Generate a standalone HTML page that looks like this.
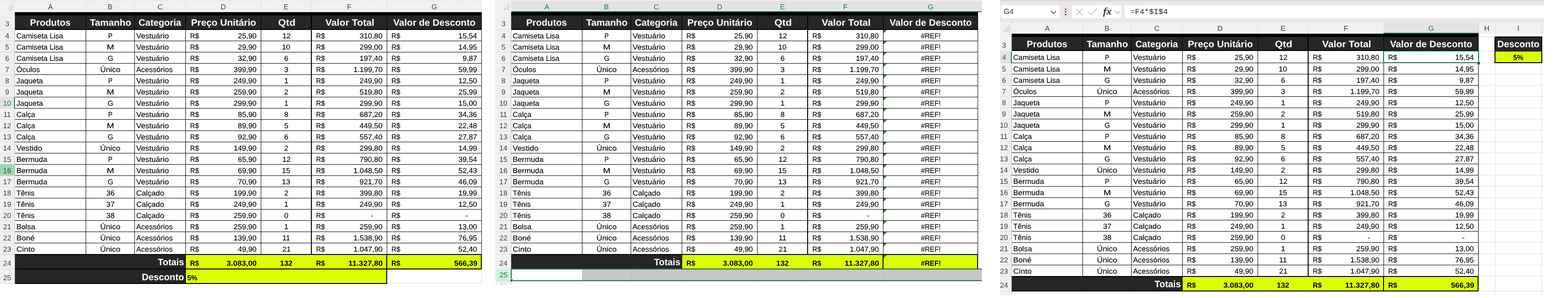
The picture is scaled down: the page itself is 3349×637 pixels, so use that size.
<!DOCTYPE html><html lang="pt-BR"><head><meta charset="utf-8"><title>Planilha</title><style>
html,body{margin:0;padding:0;background:#fff}body{width:3349px;height:637px;position:relative;overflow:hidden;font-family:"Liberation Sans",sans-serif;color:#000;text-rendering:geometricPrecision}.p{position:absolute;overflow:hidden;background:#fff}.p div,.p svg{position:absolute}.t{white-space:nowrap;line-height:20px;height:20px;transform-origin:0 50%}.s{-webkit-text-stroke:0.15px #000}
</style></head><body>
<div class="p" style="left:0px;top:0;width:1029px;height:607px">
<div style="left:0px;top:0px;width:1029px;height:26px;background:#f0f0f0;"></div>
<div style="left:183px;top:2px;width:1px;height:25px;background:#dbdbdb;"></div>
<div class="t" style="left:102.83px;top:6px;font-size:15.5px;color:#404040;">A</div>
<div style="left:287px;top:2px;width:1px;height:25px;background:#dbdbdb;"></div>
<div class="t" style="left:230.11px;top:6px;font-size:15.5px;color:#404040;">B</div>
<div style="left:396px;top:2px;width:1px;height:25px;background:#dbdbdb;"></div>
<div class="t" style="left:336.30px;top:6px;font-size:15.5px;color:#404040;">C</div>
<div style="left:557px;top:2px;width:1px;height:25px;background:#dbdbdb;"></div>
<div class="t" style="left:471.14px;top:6px;font-size:15.5px;color:#404040;">D</div>
<div style="left:665px;top:2px;width:1px;height:25px;background:#dbdbdb;"></div>
<div class="t" style="left:606.03px;top:6px;font-size:15.5px;color:#404040;">E</div>
<div style="left:826px;top:2px;width:1px;height:25px;background:#dbdbdb;"></div>
<div class="t" style="left:740.94px;top:6px;font-size:15.5px;color:#404040;">F</div>
<div style="left:1028px;top:2px;width:1px;height:25px;background:#dbdbdb;"></div>
<div class="t" style="left:921.66px;top:6px;font-size:15.5px;color:#404040;">G</div>
<div style="left:0px;top:0px;width:32px;height:26px;background:#f0f0f0;"></div>
<svg style="left:13px;top:8px" width="15" height="14" viewBox="0 0 15 14"><path d="M15 0V14H0Z" fill="#dcdede"/></svg>
<div style="left:31px;top:2px;width:1px;height:1px;background:#333;"></div>
<div style="left:0;top:0;width:1029px;height:3px;background:linear-gradient(#ece6e7,#f0f0f0)"></div>
<div style="left:0px;top:26px;width:32px;height:607px;background:#f0f0f0;"></div>
<div style="left:31px;top:26px;width:1px;height:581px;background:#b9b9b9;"></div>
<div style="left:0px;top:63px;width:32px;height:1px;background:#dcdcdc;"></div>
<div class="t" style="left:11.14px;top:42px;font-size:15.5px;color:#404040;">3</div>
<div style="left:0px;top:87px;width:32px;height:1px;background:#dcdcdc;"></div>
<div class="t" style="left:11.14px;top:68px;font-size:15.5px;color:#404040;">4</div>
<div style="left:0px;top:111px;width:32px;height:1px;background:#dcdcdc;"></div>
<div class="t" style="left:11.11px;top:92px;font-size:15.5px;color:#404040;">5</div>
<div style="left:0px;top:135px;width:32px;height:1px;background:#dcdcdc;"></div>
<div class="t" style="left:11.04px;top:116px;font-size:15.5px;color:#404040;">6</div>
<div style="left:0px;top:159px;width:32px;height:1px;background:#dcdcdc;"></div>
<div class="t" style="left:11.08px;top:140px;font-size:15.5px;color:#404040;">7</div>
<div style="left:0px;top:183px;width:32px;height:1px;background:#dcdcdc;"></div>
<div class="t" style="left:11.09px;top:164px;font-size:15.5px;color:#404040;">8</div>
<div style="left:0px;top:207px;width:32px;height:1px;background:#dcdcdc;"></div>
<div class="t" style="left:11.09px;top:188px;font-size:15.5px;color:#404040;">9</div>
<div style="left:0px;top:208px;width:32px;height:23px;background:#e3e3e3;"></div>
<div style="left:30px;top:208px;width:2px;height:24px;background:#1f7246;"></div>
<div style="left:0px;top:231px;width:30px;height:1px;background:#dcdcdc;"></div>
<div class="t" style="left:6.50px;top:212px;font-size:15.5px;color:#1f7246;">10</div>
<div style="left:0px;top:255px;width:32px;height:1px;background:#dcdcdc;"></div>
<div class="t" style="left:7.15px;top:236px;font-size:15.5px;color:#404040;">11</div>
<div style="left:0px;top:279px;width:32px;height:1px;background:#dcdcdc;"></div>
<div class="t" style="left:6.58px;top:260px;font-size:15.5px;color:#404040;">12</div>
<div style="left:0px;top:303px;width:32px;height:1px;background:#dcdcdc;"></div>
<div class="t" style="left:6.53px;top:284px;font-size:15.5px;color:#404040;">13</div>
<div style="left:0px;top:327px;width:32px;height:1px;background:#dcdcdc;"></div>
<div class="t" style="left:6.42px;top:308px;font-size:15.5px;color:#404040;">14</div>
<div style="left:0px;top:351px;width:32px;height:1px;background:#dcdcdc;"></div>
<div class="t" style="left:6.52px;top:332px;font-size:15.5px;color:#404040;">15</div>
<div style="left:0px;top:351px;width:32px;height:24px;background:#9fd5b7;"></div>
<div style="left:0px;top:375px;width:32px;height:1px;background:#dcdcdc;"></div>
<div class="t" style="left:6.53px;top:356px;font-size:15.5px;color:#185c37;">16</div>
<div style="left:0px;top:399px;width:32px;height:1px;background:#dcdcdc;"></div>
<div class="t" style="left:6.58px;top:380px;font-size:15.5px;color:#404040;">17</div>
<div style="left:0px;top:423px;width:32px;height:1px;background:#dcdcdc;"></div>
<div class="t" style="left:6.53px;top:404px;font-size:15.5px;color:#404040;">18</div>
<div style="left:0px;top:447px;width:32px;height:1px;background:#dcdcdc;"></div>
<div class="t" style="left:6.56px;top:428px;font-size:15.5px;color:#404040;">19</div>
<div style="left:0px;top:471px;width:32px;height:1px;background:#dcdcdc;"></div>
<div class="t" style="left:6.70px;top:452px;font-size:15.5px;color:#404040;">20</div>
<div style="left:0px;top:495px;width:32px;height:1px;background:#dcdcdc;"></div>
<div class="t" style="left:6.77px;top:476px;font-size:15.5px;color:#404040;">21</div>
<div style="left:0px;top:519px;width:32px;height:1px;background:#dcdcdc;"></div>
<div class="t" style="left:6.78px;top:500px;font-size:15.5px;color:#404040;">22</div>
<div style="left:0px;top:543px;width:32px;height:1px;background:#dcdcdc;"></div>
<div class="t" style="left:6.74px;top:524px;font-size:15.5px;color:#404040;">23</div>
<div style="left:0px;top:575px;width:32px;height:1px;background:#dcdcdc;"></div>
<div class="t" style="left:6.62px;top:554px;font-size:15.5px;color:#404040;">24</div>
<div style="left:0px;top:606px;width:32px;height:1px;background:#dcdcdc;"></div>
<div class="t" style="left:6.72px;top:585px;font-size:15.5px;color:#404040;">25</div>
<div style="left:32px;top:26px;width:997px;height:7px;background:#000;"></div>
<div style="left:32px;top:33px;width:997px;height:31px;background:#262626;"></div>
<div style="left:32px;top:62px;width:997px;height:2px;background:#000;"></div>
<div style="left:183px;top:33px;width:1px;height:30px;background:#000;"></div>
<div style="left:287px;top:33px;width:1px;height:30px;background:#000;"></div>
<div style="left:396px;top:33px;width:1px;height:30px;background:#000;"></div>
<div style="left:557px;top:33px;width:1px;height:30px;background:#000;"></div>
<div style="left:664px;top:33px;width:2px;height:30px;background:#000;"></div>
<div style="left:826px;top:33px;width:1px;height:30px;background:#000;"></div>
<div style="left:1028px;top:33px;width:1px;height:30px;background:#000;"></div>
<div class="t" style="left:64.12px;top:39px;font-size:20px;font-weight:bold;color:#fff;transform:scaleX(0.9893);">Produtos</div>
<div class="t" style="left:192.03px;top:39px;font-size:20px;font-weight:bold;color:#fff;transform:scaleX(1.0102);">Tamanho</div>
<div class="t" style="left:296.49px;top:39px;font-size:20px;font-weight:bold;color:#fff;transform:scaleX(0.9851);">Categoria</div>
<div class="t" style="left:407.59px;top:39px;font-size:20px;font-weight:bold;color:#fff;transform:scaleX(1.0172);">Preço Unitário</div>
<div class="t" style="left:593.56px;top:39px;font-size:20px;font-weight:bold;color:#fff;transform:scaleX(1.0805);">Qtd</div>
<div class="t" style="left:694.75px;top:39px;font-size:20px;font-weight:bold;color:#fff;transform:scaleX(1.0383);">Valor Total</div>
<div class="t" style="left:840.41px;top:39px;font-size:20px;font-weight:bold;color:#fff;transform:scaleX(1.0065);">Valor de Desconto</div>
<div style="left:32px;top:64px;width:997px;height:479px;background:#fff;"></div>
<div style="left:32px;top:87px;width:997px;height:1px;background:#000;"></div>
<div style="left:32px;top:111px;width:997px;height:1px;background:#000;"></div>
<div style="left:32px;top:135px;width:997px;height:1px;background:#000;"></div>
<div style="left:32px;top:159px;width:997px;height:1px;background:#000;"></div>
<div style="left:32px;top:183px;width:997px;height:1px;background:#000;"></div>
<div style="left:32px;top:207px;width:997px;height:1px;background:#000;"></div>
<div style="left:32px;top:231px;width:997px;height:1px;background:#000;"></div>
<div style="left:32px;top:255px;width:997px;height:1px;background:#000;"></div>
<div style="left:32px;top:279px;width:997px;height:1px;background:#000;"></div>
<div style="left:32px;top:303px;width:997px;height:1px;background:#000;"></div>
<div style="left:32px;top:327px;width:997px;height:1px;background:#000;"></div>
<div style="left:32px;top:351px;width:997px;height:1px;background:#000;"></div>
<div style="left:32px;top:375px;width:997px;height:1px;background:#000;"></div>
<div style="left:32px;top:399px;width:997px;height:1px;background:#000;"></div>
<div style="left:32px;top:423px;width:997px;height:1px;background:#000;"></div>
<div style="left:32px;top:447px;width:997px;height:1px;background:#000;"></div>
<div style="left:32px;top:471px;width:997px;height:1px;background:#000;"></div>
<div style="left:32px;top:495px;width:997px;height:1px;background:#000;"></div>
<div style="left:32px;top:519px;width:997px;height:1px;background:#000;"></div>
<div style="left:32px;top:543px;width:997px;height:1px;background:#000;"></div>
<div style="left:183px;top:64px;width:1px;height:479px;background:#000;"></div>
<div style="left:287px;top:64px;width:1px;height:479px;background:#000;"></div>
<div style="left:396px;top:64px;width:1px;height:479px;background:#000;"></div>
<div style="left:557px;top:64px;width:1px;height:479px;background:#000;"></div>
<div style="left:664px;top:64px;width:2px;height:479px;background:#000;"></div>
<div style="left:826px;top:64px;width:1px;height:479px;background:#000;"></div>
<div style="left:1028px;top:64px;width:1px;height:479px;background:#000;"></div>
<div class="t s" style="left:34.66px;top:68px;font-size:15.5px;transform:scaleX(1.0162);">Camiseta Lisa</div>
<div class="t s" style="left:230.92px;top:68px;font-size:15.5px;transform:scaleX(0.8853);">P</div>
<div class="t s" style="left:291.33px;top:68px;font-size:15.5px;transform:scaleX(1.0781);">Vestuário</div>
<div class="t s" style="left:405.79px;top:68px;font-size:15.5px;transform:scaleX(0.9513);">R$</div>
<div class="t s" style="left:508.18px;top:68px;font-size:15.5px;transform:scaleX(1.0300);">25,90</div>
<div class="t s" style="left:602.52px;top:68px;font-size:15.5px;transform:scaleX(1.0300);">12</div>
<div class="t s" style="left:674.79px;top:68px;font-size:15.5px;transform:scaleX(0.9513);">R$</div>
<div class="t s" style="left:768.30px;top:68px;font-size:15.5px;transform:scaleX(1.0300);">310,80</div>
<div class="t s" style="left:835.79px;top:68px;font-size:15.5px;transform:scaleX(0.9513);">R$</div>
<div class="t s" style="left:979.02px;top:68px;font-size:15.5px;transform:scaleX(1.0300);">15,54</div>
<div class="t s" style="left:34.66px;top:92px;font-size:15.5px;transform:scaleX(1.0162);">Camiseta Lisa</div>
<div class="t s" style="left:227.86px;top:92px;font-size:15.5px;transform:scaleX(1.2151);">M</div>
<div class="t s" style="left:291.33px;top:92px;font-size:15.5px;transform:scaleX(1.0781);">Vestuário</div>
<div class="t s" style="left:405.79px;top:92px;font-size:15.5px;transform:scaleX(0.9513);">R$</div>
<div class="t s" style="left:508.18px;top:92px;font-size:15.5px;transform:scaleX(1.0300);">29,90</div>
<div class="t s" style="left:602.43px;top:92px;font-size:15.5px;transform:scaleX(1.0300);">10</div>
<div class="t s" style="left:674.79px;top:92px;font-size:15.5px;transform:scaleX(0.9513);">R$</div>
<div class="t s" style="left:768.30px;top:92px;font-size:15.5px;transform:scaleX(1.0300);">299,00</div>
<div class="t s" style="left:835.79px;top:92px;font-size:15.5px;transform:scaleX(0.9513);">R$</div>
<div class="t s" style="left:979.23px;top:92px;font-size:15.5px;transform:scaleX(1.0300);">14,95</div>
<div class="t s" style="left:34.66px;top:116px;font-size:15.5px;transform:scaleX(1.0162);">Camiseta Lisa</div>
<div class="t s" style="left:229.91px;top:116px;font-size:15.5px;transform:scaleX(0.9929);">G</div>
<div class="t s" style="left:291.33px;top:116px;font-size:15.5px;transform:scaleX(1.0781);">Vestuário</div>
<div class="t s" style="left:405.79px;top:116px;font-size:15.5px;transform:scaleX(0.9513);">R$</div>
<div class="t s" style="left:508.18px;top:116px;font-size:15.5px;transform:scaleX(1.0300);">32,90</div>
<div class="t s" style="left:607.11px;top:116px;font-size:15.5px;transform:scaleX(1.0300);">6</div>
<div class="t s" style="left:674.79px;top:116px;font-size:15.5px;transform:scaleX(0.9513);">R$</div>
<div class="t s" style="left:768.30px;top:116px;font-size:15.5px;transform:scaleX(1.0300);">197,40</div>
<div class="t s" style="left:835.79px;top:116px;font-size:15.5px;transform:scaleX(0.9513);">R$</div>
<div class="t s" style="left:988.23px;top:116px;font-size:15.5px;transform:scaleX(1.0300);">9,87</div>
<div class="t s" style="left:34.70px;top:140px;font-size:15.5px;transform:scaleX(1.0458);">Óculos</div>
<div class="t s" style="left:213.80px;top:140px;font-size:15.5px;transform:scaleX(1.0903);">Único</div>
<div class="t s" style="left:291.37px;top:140px;font-size:15.5px;transform:scaleX(1.0276);">Acessórios</div>
<div class="t s" style="left:405.79px;top:140px;font-size:15.5px;transform:scaleX(0.9513);">R$</div>
<div class="t s" style="left:499.30px;top:140px;font-size:15.5px;transform:scaleX(1.0300);">399,90</div>
<div class="t s" style="left:607.21px;top:140px;font-size:15.5px;transform:scaleX(1.0300);">3</div>
<div class="t s" style="left:674.79px;top:140px;font-size:15.5px;transform:scaleX(0.9513);">R$</div>
<div class="t s" style="left:754.99px;top:140px;font-size:15.5px;transform:scaleX(1.0300);">1.199,70</div>
<div class="t s" style="left:835.79px;top:140px;font-size:15.5px;transform:scaleX(0.9513);">R$</div>
<div class="t s" style="left:979.31px;top:140px;font-size:15.5px;transform:scaleX(1.0300);">59,99</div>
<div class="t s" style="left:35.05px;top:164px;font-size:15.5px;transform:scaleX(1.0273);">Jaqueta</div>
<div class="t s" style="left:230.92px;top:164px;font-size:15.5px;transform:scaleX(0.8853);">P</div>
<div class="t s" style="left:291.33px;top:164px;font-size:15.5px;transform:scaleX(1.0781);">Vestuário</div>
<div class="t s" style="left:405.79px;top:164px;font-size:15.5px;transform:scaleX(0.9513);">R$</div>
<div class="t s" style="left:499.30px;top:164px;font-size:15.5px;transform:scaleX(1.0300);">249,90</div>
<div class="t s" style="left:606.95px;top:164px;font-size:15.5px;transform:scaleX(1.0300);">1</div>
<div class="t s" style="left:674.79px;top:164px;font-size:15.5px;transform:scaleX(0.9513);">R$</div>
<div class="t s" style="left:768.30px;top:164px;font-size:15.5px;transform:scaleX(1.0300);">249,90</div>
<div class="t s" style="left:835.79px;top:164px;font-size:15.5px;transform:scaleX(0.9513);">R$</div>
<div class="t s" style="left:979.18px;top:164px;font-size:15.5px;transform:scaleX(1.0300);">12,50</div>
<div class="t s" style="left:35.05px;top:188px;font-size:15.5px;transform:scaleX(1.0273);">Jaqueta</div>
<div class="t s" style="left:227.86px;top:188px;font-size:15.5px;transform:scaleX(1.2151);">M</div>
<div class="t s" style="left:291.33px;top:188px;font-size:15.5px;transform:scaleX(1.0781);">Vestuário</div>
<div class="t s" style="left:405.79px;top:188px;font-size:15.5px;transform:scaleX(0.9513);">R$</div>
<div class="t s" style="left:499.30px;top:188px;font-size:15.5px;transform:scaleX(1.0300);">259,90</div>
<div class="t s" style="left:607.16px;top:188px;font-size:15.5px;transform:scaleX(1.0300);">2</div>
<div class="t s" style="left:674.79px;top:188px;font-size:15.5px;transform:scaleX(0.9513);">R$</div>
<div class="t s" style="left:768.30px;top:188px;font-size:15.5px;transform:scaleX(1.0300);">519,80</div>
<div class="t s" style="left:835.79px;top:188px;font-size:15.5px;transform:scaleX(0.9513);">R$</div>
<div class="t s" style="left:979.31px;top:188px;font-size:15.5px;transform:scaleX(1.0300);">25,99</div>
<div class="t s" style="left:35.05px;top:212px;font-size:15.5px;transform:scaleX(1.0273);">Jaqueta</div>
<div class="t s" style="left:229.91px;top:212px;font-size:15.5px;transform:scaleX(0.9929);">G</div>
<div class="t s" style="left:291.33px;top:212px;font-size:15.5px;transform:scaleX(1.0781);">Vestuário</div>
<div class="t s" style="left:405.79px;top:212px;font-size:15.5px;transform:scaleX(0.9513);">R$</div>
<div class="t s" style="left:499.30px;top:212px;font-size:15.5px;transform:scaleX(1.0300);">299,90</div>
<div class="t s" style="left:606.95px;top:212px;font-size:15.5px;transform:scaleX(1.0300);">1</div>
<div class="t s" style="left:674.79px;top:212px;font-size:15.5px;transform:scaleX(0.9513);">R$</div>
<div class="t s" style="left:768.30px;top:212px;font-size:15.5px;transform:scaleX(1.0300);">299,90</div>
<div class="t s" style="left:835.79px;top:212px;font-size:15.5px;transform:scaleX(0.9513);">R$</div>
<div class="t s" style="left:979.18px;top:212px;font-size:15.5px;transform:scaleX(1.0300);">15,00</div>
<div class="t s" style="left:34.66px;top:236px;font-size:15.5px;transform:scaleX(1.0066);">Calça</div>
<div class="t s" style="left:230.92px;top:236px;font-size:15.5px;transform:scaleX(0.8853);">P</div>
<div class="t s" style="left:291.33px;top:236px;font-size:15.5px;transform:scaleX(1.0781);">Vestuário</div>
<div class="t s" style="left:405.79px;top:236px;font-size:15.5px;transform:scaleX(0.9513);">R$</div>
<div class="t s" style="left:508.18px;top:236px;font-size:15.5px;transform:scaleX(1.0300);">85,90</div>
<div class="t s" style="left:607.16px;top:236px;font-size:15.5px;transform:scaleX(1.0300);">8</div>
<div class="t s" style="left:674.79px;top:236px;font-size:15.5px;transform:scaleX(0.9513);">R$</div>
<div class="t s" style="left:768.30px;top:236px;font-size:15.5px;transform:scaleX(1.0300);">687,20</div>
<div class="t s" style="left:835.79px;top:236px;font-size:15.5px;transform:scaleX(0.9513);">R$</div>
<div class="t s" style="left:979.26px;top:236px;font-size:15.5px;transform:scaleX(1.0300);">34,36</div>
<div class="t s" style="left:34.66px;top:260px;font-size:15.5px;transform:scaleX(1.0066);">Calça</div>
<div class="t s" style="left:227.86px;top:260px;font-size:15.5px;transform:scaleX(1.2151);">M</div>
<div class="t s" style="left:291.33px;top:260px;font-size:15.5px;transform:scaleX(1.0781);">Vestuário</div>
<div class="t s" style="left:405.79px;top:260px;font-size:15.5px;transform:scaleX(0.9513);">R$</div>
<div class="t s" style="left:508.18px;top:260px;font-size:15.5px;transform:scaleX(1.0300);">89,90</div>
<div class="t s" style="left:607.18px;top:260px;font-size:15.5px;transform:scaleX(1.0300);">5</div>
<div class="t s" style="left:674.79px;top:260px;font-size:15.5px;transform:scaleX(0.9513);">R$</div>
<div class="t s" style="left:768.30px;top:260px;font-size:15.5px;transform:scaleX(1.0300);">449,50</div>
<div class="t s" style="left:835.79px;top:260px;font-size:15.5px;transform:scaleX(0.9513);">R$</div>
<div class="t s" style="left:979.24px;top:260px;font-size:15.5px;transform:scaleX(1.0300);">22,48</div>
<div class="t s" style="left:34.66px;top:284px;font-size:15.5px;transform:scaleX(1.0066);">Calça</div>
<div class="t s" style="left:229.91px;top:284px;font-size:15.5px;transform:scaleX(0.9929);">G</div>
<div class="t s" style="left:291.33px;top:284px;font-size:15.5px;transform:scaleX(1.0781);">Vestuário</div>
<div class="t s" style="left:405.79px;top:284px;font-size:15.5px;transform:scaleX(0.9513);">R$</div>
<div class="t s" style="left:508.18px;top:284px;font-size:15.5px;transform:scaleX(1.0300);">92,90</div>
<div class="t s" style="left:607.11px;top:284px;font-size:15.5px;transform:scaleX(1.0300);">6</div>
<div class="t s" style="left:674.79px;top:284px;font-size:15.5px;transform:scaleX(0.9513);">R$</div>
<div class="t s" style="left:768.30px;top:284px;font-size:15.5px;transform:scaleX(1.0300);">557,40</div>
<div class="t s" style="left:835.79px;top:284px;font-size:15.5px;transform:scaleX(0.9513);">R$</div>
<div class="t s" style="left:979.35px;top:284px;font-size:15.5px;transform:scaleX(1.0300);">27,87</div>
<div class="t s" style="left:35.39px;top:308px;font-size:15.5px;transform:scaleX(1.0813);">Vestido</div>
<div class="t s" style="left:213.80px;top:308px;font-size:15.5px;transform:scaleX(1.0903);">Único</div>
<div class="t s" style="left:291.33px;top:308px;font-size:15.5px;transform:scaleX(1.0781);">Vestuário</div>
<div class="t s" style="left:405.79px;top:308px;font-size:15.5px;transform:scaleX(0.9513);">R$</div>
<div class="t s" style="left:499.30px;top:308px;font-size:15.5px;transform:scaleX(1.0300);">149,90</div>
<div class="t s" style="left:607.16px;top:308px;font-size:15.5px;transform:scaleX(1.0300);">2</div>
<div class="t s" style="left:674.79px;top:308px;font-size:15.5px;transform:scaleX(0.9513);">R$</div>
<div class="t s" style="left:768.30px;top:308px;font-size:15.5px;transform:scaleX(1.0300);">299,80</div>
<div class="t s" style="left:835.79px;top:308px;font-size:15.5px;transform:scaleX(0.9513);">R$</div>
<div class="t s" style="left:979.31px;top:308px;font-size:15.5px;transform:scaleX(1.0300);">14,99</div>
<div class="t s" style="left:34.87px;top:332px;font-size:15.5px;transform:scaleX(1.0482);">Bermuda</div>
<div class="t s" style="left:230.92px;top:332px;font-size:15.5px;transform:scaleX(0.8853);">P</div>
<div class="t s" style="left:291.33px;top:332px;font-size:15.5px;transform:scaleX(1.0781);">Vestuário</div>
<div class="t s" style="left:405.79px;top:332px;font-size:15.5px;transform:scaleX(0.9513);">R$</div>
<div class="t s" style="left:508.18px;top:332px;font-size:15.5px;transform:scaleX(1.0300);">65,90</div>
<div class="t s" style="left:602.52px;top:332px;font-size:15.5px;transform:scaleX(1.0300);">12</div>
<div class="t s" style="left:674.79px;top:332px;font-size:15.5px;transform:scaleX(0.9513);">R$</div>
<div class="t s" style="left:768.30px;top:332px;font-size:15.5px;transform:scaleX(1.0300);">790,80</div>
<div class="t s" style="left:835.79px;top:332px;font-size:15.5px;transform:scaleX(0.9513);">R$</div>
<div class="t s" style="left:979.02px;top:332px;font-size:15.5px;transform:scaleX(1.0300);">39,54</div>
<div class="t s" style="left:34.87px;top:356px;font-size:15.5px;transform:scaleX(1.0482);">Bermuda</div>
<div class="t s" style="left:227.86px;top:356px;font-size:15.5px;transform:scaleX(1.2151);">M</div>
<div class="t s" style="left:291.33px;top:356px;font-size:15.5px;transform:scaleX(1.0781);">Vestuário</div>
<div class="t s" style="left:405.79px;top:356px;font-size:15.5px;transform:scaleX(0.9513);">R$</div>
<div class="t s" style="left:508.18px;top:356px;font-size:15.5px;transform:scaleX(1.0300);">69,90</div>
<div class="t s" style="left:602.45px;top:356px;font-size:15.5px;transform:scaleX(1.0300);">15</div>
<div class="t s" style="left:674.79px;top:356px;font-size:15.5px;transform:scaleX(0.9513);">R$</div>
<div class="t s" style="left:754.99px;top:356px;font-size:15.5px;transform:scaleX(1.0300);">1.048,50</div>
<div class="t s" style="left:835.79px;top:356px;font-size:15.5px;transform:scaleX(0.9513);">R$</div>
<div class="t s" style="left:979.26px;top:356px;font-size:15.5px;transform:scaleX(1.0300);">52,43</div>
<div class="t s" style="left:34.87px;top:380px;font-size:15.5px;transform:scaleX(1.0482);">Bermuda</div>
<div class="t s" style="left:229.91px;top:380px;font-size:15.5px;transform:scaleX(0.9929);">G</div>
<div class="t s" style="left:291.33px;top:380px;font-size:15.5px;transform:scaleX(1.0781);">Vestuário</div>
<div class="t s" style="left:405.79px;top:380px;font-size:15.5px;transform:scaleX(0.9513);">R$</div>
<div class="t s" style="left:508.18px;top:380px;font-size:15.5px;transform:scaleX(1.0300);">70,90</div>
<div class="t s" style="left:602.47px;top:380px;font-size:15.5px;transform:scaleX(1.0300);">13</div>
<div class="t s" style="left:674.79px;top:380px;font-size:15.5px;transform:scaleX(0.9513);">R$</div>
<div class="t s" style="left:768.30px;top:380px;font-size:15.5px;transform:scaleX(1.0300);">921,70</div>
<div class="t s" style="left:835.79px;top:380px;font-size:15.5px;transform:scaleX(0.9513);">R$</div>
<div class="t s" style="left:979.31px;top:380px;font-size:15.5px;transform:scaleX(1.0300);">46,09</div>
<div class="t s" style="left:34.65px;top:404px;font-size:15.5px;transform:scaleX(1.0190);">Tênis</div>
<div class="t s" style="left:226.87px;top:404px;font-size:15.5px;transform:scaleX(1.0300);">36</div>
<div class="t s" style="left:290.57px;top:404px;font-size:15.5px;transform:scaleX(1.0500);">Calçado</div>
<div class="t s" style="left:405.79px;top:404px;font-size:15.5px;transform:scaleX(0.9513);">R$</div>
<div class="t s" style="left:499.30px;top:404px;font-size:15.5px;transform:scaleX(1.0300);">199,90</div>
<div class="t s" style="left:607.16px;top:404px;font-size:15.5px;transform:scaleX(1.0300);">2</div>
<div class="t s" style="left:674.79px;top:404px;font-size:15.5px;transform:scaleX(0.9513);">R$</div>
<div class="t s" style="left:768.30px;top:404px;font-size:15.5px;transform:scaleX(1.0300);">399,80</div>
<div class="t s" style="left:835.79px;top:404px;font-size:15.5px;transform:scaleX(0.9513);">R$</div>
<div class="t s" style="left:979.31px;top:404px;font-size:15.5px;transform:scaleX(1.0300);">19,99</div>
<div class="t s" style="left:34.65px;top:428px;font-size:15.5px;transform:scaleX(1.0190);">Tênis</div>
<div class="t s" style="left:226.92px;top:428px;font-size:15.5px;transform:scaleX(1.0300);">37</div>
<div class="t s" style="left:290.57px;top:428px;font-size:15.5px;transform:scaleX(1.0500);">Calçado</div>
<div class="t s" style="left:405.79px;top:428px;font-size:15.5px;transform:scaleX(0.9513);">R$</div>
<div class="t s" style="left:499.30px;top:428px;font-size:15.5px;transform:scaleX(1.0300);">249,90</div>
<div class="t s" style="left:606.95px;top:428px;font-size:15.5px;transform:scaleX(1.0300);">1</div>
<div class="t s" style="left:674.79px;top:428px;font-size:15.5px;transform:scaleX(0.9513);">R$</div>
<div class="t s" style="left:768.30px;top:428px;font-size:15.5px;transform:scaleX(1.0300);">249,90</div>
<div class="t s" style="left:835.79px;top:428px;font-size:15.5px;transform:scaleX(0.9513);">R$</div>
<div class="t s" style="left:979.18px;top:428px;font-size:15.5px;transform:scaleX(1.0300);">12,50</div>
<div class="t s" style="left:34.65px;top:452px;font-size:15.5px;transform:scaleX(1.0190);">Tênis</div>
<div class="t s" style="left:226.86px;top:452px;font-size:15.5px;transform:scaleX(1.0300);">38</div>
<div class="t s" style="left:290.57px;top:452px;font-size:15.5px;transform:scaleX(1.0500);">Calçado</div>
<div class="t s" style="left:405.79px;top:452px;font-size:15.5px;transform:scaleX(0.9513);">R$</div>
<div class="t s" style="left:499.30px;top:452px;font-size:15.5px;transform:scaleX(1.0300);">259,90</div>
<div class="t s" style="left:607.16px;top:452px;font-size:15.5px;transform:scaleX(1.0300);">0</div>
<div class="t s" style="left:674.79px;top:452px;font-size:15.5px;transform:scaleX(0.9513);">R$</div>
<div class="t s" style="left:791.92px;top:452px;font-size:15.5px;">-</div>
<div class="t s" style="left:835.79px;top:452px;font-size:15.5px;transform:scaleX(0.9513);">R$</div>
<div class="t s" style="left:993.92px;top:452px;font-size:15.5px;">-</div>
<div class="t s" style="left:34.88px;top:476px;font-size:15.5px;transform:scaleX(1.0348);">Bolsa</div>
<div class="t s" style="left:213.80px;top:476px;font-size:15.5px;transform:scaleX(1.0903);">Único</div>
<div class="t s" style="left:291.37px;top:476px;font-size:15.5px;transform:scaleX(1.0276);">Acessórios</div>
<div class="t s" style="left:405.79px;top:476px;font-size:15.5px;transform:scaleX(0.9513);">R$</div>
<div class="t s" style="left:499.30px;top:476px;font-size:15.5px;transform:scaleX(1.0300);">259,90</div>
<div class="t s" style="left:606.95px;top:476px;font-size:15.5px;transform:scaleX(1.0300);">1</div>
<div class="t s" style="left:674.79px;top:476px;font-size:15.5px;transform:scaleX(0.9513);">R$</div>
<div class="t s" style="left:768.30px;top:476px;font-size:15.5px;transform:scaleX(1.0300);">259,90</div>
<div class="t s" style="left:835.79px;top:476px;font-size:15.5px;transform:scaleX(0.9513);">R$</div>
<div class="t s" style="left:979.18px;top:476px;font-size:15.5px;transform:scaleX(1.0300);">13,00</div>
<div class="t s" style="left:34.83px;top:500px;font-size:15.5px;transform:scaleX(1.0777);">Boné</div>
<div class="t s" style="left:213.80px;top:500px;font-size:15.5px;transform:scaleX(1.0903);">Único</div>
<div class="t s" style="left:291.37px;top:500px;font-size:15.5px;transform:scaleX(1.0276);">Acessórios</div>
<div class="t s" style="left:405.79px;top:500px;font-size:15.5px;transform:scaleX(0.9513);">R$</div>
<div class="t s" style="left:499.30px;top:500px;font-size:15.5px;transform:scaleX(1.0300);">139,90</div>
<div class="t s" style="left:603.10px;top:500px;font-size:15.5px;transform:scaleX(1.0300);">11</div>
<div class="t s" style="left:674.79px;top:500px;font-size:15.5px;transform:scaleX(0.9513);">R$</div>
<div class="t s" style="left:754.99px;top:500px;font-size:15.5px;transform:scaleX(1.0300);">1.538,90</div>
<div class="t s" style="left:835.79px;top:500px;font-size:15.5px;transform:scaleX(0.9513);">R$</div>
<div class="t s" style="left:979.23px;top:500px;font-size:15.5px;transform:scaleX(1.0300);">76,95</div>
<div class="t s" style="left:34.60px;top:524px;font-size:15.5px;transform:scaleX(1.0911);">Cinto</div>
<div class="t s" style="left:213.80px;top:524px;font-size:15.5px;transform:scaleX(1.0903);">Único</div>
<div class="t s" style="left:291.37px;top:524px;font-size:15.5px;transform:scaleX(1.0276);">Acessórios</div>
<div class="t s" style="left:405.79px;top:524px;font-size:15.5px;transform:scaleX(0.9513);">R$</div>
<div class="t s" style="left:508.18px;top:524px;font-size:15.5px;transform:scaleX(1.0300);">49,90</div>
<div class="t s" style="left:602.72px;top:524px;font-size:15.5px;transform:scaleX(1.0300);">21</div>
<div class="t s" style="left:674.79px;top:524px;font-size:15.5px;transform:scaleX(0.9513);">R$</div>
<div class="t s" style="left:754.99px;top:524px;font-size:15.5px;transform:scaleX(1.0300);">1.047,90</div>
<div class="t s" style="left:835.79px;top:524px;font-size:15.5px;transform:scaleX(0.9513);">R$</div>
<div class="t s" style="left:979.18px;top:524px;font-size:15.5px;transform:scaleX(1.0300);">52,40</div>
<div style="left:32px;top:543px;width:997px;height:33px;background:#000;"></div>
<div style="left:32px;top:545px;width:364px;height:29px;background:#262626;"></div>
<div style="left:397px;top:545px;width:428px;height:29px;background:#dbff00;"></div>
<div style="left:827px;top:545px;width:200px;height:29px;background:#dbff00;"></div>
<div class="t" style="left:336.99px;top:551px;font-size:20px;font-weight:bold;color:#fff;transform:scaleX(0.9759);">Totais</div>
<div class="t" style="left:406.01px;top:554px;font-size:15.5px;font-weight:bold;transform:scaleX(0.9540);">R$</div>
<div class="t" style="left:484.12px;top:554px;font-size:15.5px;font-weight:bold;transform:scaleX(1.0652);">3.083,00</div>
<div class="t" style="left:598.10px;top:554px;font-size:15.5px;font-weight:bold;transform:scaleX(1.0300);">132</div>
<div class="t" style="left:675.01px;top:554px;font-size:15.5px;font-weight:bold;transform:scaleX(0.9540);">R$</div>
<div class="t" style="left:743.85px;top:554px;font-size:15.5px;font-weight:bold;transform:scaleX(1.0800);">11.327,80</div>
<div class="t" style="left:836.01px;top:554px;font-size:15.5px;font-weight:bold;transform:scaleX(0.9540);">R$</div>
<div class="t" style="left:969.50px;top:554px;font-size:15.5px;font-weight:bold;transform:scaleX(1.0508);">566,39</div>
<div style="left:32px;top:574px;width:795px;height:33px;background:#000;"></div>
<div style="left:32px;top:576px;width:364px;height:29px;background:#262626;"></div>
<div style="left:397px;top:576px;width:428px;height:29px;background:#dbff00;"></div>
<div style="left:827px;top:605px;width:202px;height:1px;background:#e0e0e0;"></div>
<div style="left:1028px;top:576px;width:1px;height:30px;background:#e0e0e0;"></div>
<div class="t" style="left:302.88px;top:583px;font-size:20px;font-weight:bold;color:#fff;transform:scaleX(0.9888);">Desconto</div>
<div class="t" style="left:400.24px;top:585px;font-size:15.5px;font-weight:bold;transform:scaleX(0.9622);">5%</div>
</div>
<div class="p" style="left:1056px;top:0;width:1041px;height:610px">
<div style="left:1033px;top:63px;width:20px;height:1px;background:#e0e0e0;"></div>
<div style="left:1033px;top:87px;width:20px;height:1px;background:#e0e0e0;"></div>
<div style="left:1033px;top:111px;width:20px;height:1px;background:#e0e0e0;"></div>
<div style="left:1033px;top:135px;width:20px;height:1px;background:#e0e0e0;"></div>
<div style="left:1033px;top:159px;width:20px;height:1px;background:#e0e0e0;"></div>
<div style="left:1033px;top:183px;width:20px;height:1px;background:#e0e0e0;"></div>
<div style="left:1033px;top:207px;width:20px;height:1px;background:#e0e0e0;"></div>
<div style="left:1033px;top:231px;width:20px;height:1px;background:#e0e0e0;"></div>
<div style="left:1033px;top:255px;width:20px;height:1px;background:#e0e0e0;"></div>
<div style="left:1033px;top:279px;width:20px;height:1px;background:#e0e0e0;"></div>
<div style="left:1033px;top:303px;width:20px;height:1px;background:#e0e0e0;"></div>
<div style="left:1033px;top:327px;width:20px;height:1px;background:#e0e0e0;"></div>
<div style="left:1033px;top:351px;width:20px;height:1px;background:#e0e0e0;"></div>
<div style="left:1033px;top:375px;width:20px;height:1px;background:#e0e0e0;"></div>
<div style="left:1033px;top:399px;width:20px;height:1px;background:#e0e0e0;"></div>
<div style="left:1033px;top:423px;width:20px;height:1px;background:#e0e0e0;"></div>
<div style="left:1033px;top:447px;width:20px;height:1px;background:#e0e0e0;"></div>
<div style="left:1033px;top:471px;width:20px;height:1px;background:#e0e0e0;"></div>
<div style="left:1033px;top:495px;width:20px;height:1px;background:#e0e0e0;"></div>
<div style="left:1033px;top:519px;width:20px;height:1px;background:#e0e0e0;"></div>
<div style="left:1033px;top:543px;width:20px;height:1px;background:#e0e0e0;"></div>
<div style="left:1033px;top:32px;width:20px;height:1px;background:#e0e0e0;"></div>
<div style="left:0px;top:0px;width:1041px;height:26px;background:#f0f0f0;"></div>
<div style="left:36px;top:0px;width:151px;height:26px;background:#e3e3e3;"></div>
<div style="left:36px;top:24px;width:152px;height:2px;background:#1f7246;"></div>
<div style="left:187px;top:2px;width:1px;height:22px;background:#cfcfcf;"></div>
<div class="t" style="left:106.83px;top:6px;font-size:15.5px;color:#1f7246;">A</div>
<div style="left:187px;top:0px;width:104px;height:26px;background:#e3e3e3;"></div>
<div style="left:187px;top:24px;width:105px;height:2px;background:#1f7246;"></div>
<div style="left:291px;top:2px;width:1px;height:22px;background:#cfcfcf;"></div>
<div class="t" style="left:234.11px;top:6px;font-size:15.5px;color:#1f7246;">B</div>
<div style="left:291px;top:0px;width:109px;height:26px;background:#e3e3e3;"></div>
<div style="left:291px;top:24px;width:110px;height:2px;background:#1f7246;"></div>
<div style="left:400px;top:2px;width:1px;height:22px;background:#cfcfcf;"></div>
<div class="t" style="left:340.30px;top:6px;font-size:15.5px;color:#1f7246;">C</div>
<div style="left:400px;top:0px;width:161px;height:26px;background:#e3e3e3;"></div>
<div style="left:400px;top:24px;width:162px;height:2px;background:#1f7246;"></div>
<div style="left:561px;top:2px;width:1px;height:22px;background:#cfcfcf;"></div>
<div class="t" style="left:475.14px;top:6px;font-size:15.5px;color:#1f7246;">D</div>
<div style="left:561px;top:0px;width:108px;height:26px;background:#e3e3e3;"></div>
<div style="left:561px;top:24px;width:109px;height:2px;background:#1f7246;"></div>
<div style="left:669px;top:2px;width:1px;height:22px;background:#cfcfcf;"></div>
<div class="t" style="left:610.03px;top:6px;font-size:15.5px;color:#1f7246;">E</div>
<div style="left:669px;top:0px;width:161px;height:26px;background:#e3e3e3;"></div>
<div style="left:669px;top:24px;width:162px;height:2px;background:#1f7246;"></div>
<div style="left:830px;top:2px;width:1px;height:22px;background:#cfcfcf;"></div>
<div class="t" style="left:744.94px;top:6px;font-size:15.5px;color:#1f7246;">F</div>
<div style="left:830px;top:0px;width:202px;height:26px;background:#e3e3e3;"></div>
<div style="left:830px;top:24px;width:203px;height:2px;background:#1f7246;"></div>
<div style="left:1032px;top:2px;width:1px;height:22px;background:#cfcfcf;"></div>
<div class="t" style="left:925.66px;top:6px;font-size:15.5px;color:#1f7246;">G</div>
<div style="left:1032px;top:0px;width:59px;height:26px;background:#e3e3e3;"></div>
<div style="left:1032px;top:24px;width:60px;height:2px;background:#1f7246;"></div>
<div style="left:1091px;top:2px;width:1px;height:22px;background:#cfcfcf;"></div>
<div style="left:0px;top:0px;width:36px;height:26px;background:#f0f0f0;"></div>
<svg style="left:17px;top:8px" width="15" height="14" viewBox="0 0 15 14"><path d="M15 0V14H0Z" fill="#dcdede"/></svg>
<div style="left:0;top:0;width:1041px;height:3px;background:linear-gradient(#f6f3f4,rgba(246,243,244,0))"></div>
<div style="left:0px;top:26px;width:36px;height:610px;background:#f0f0f0;"></div>
<div style="left:35px;top:26px;width:1px;height:584px;background:#b9b9b9;"></div>
<div style="left:0px;top:63px;width:36px;height:1px;background:#dcdcdc;"></div>
<div class="t" style="left:15.14px;top:42px;font-size:15.5px;color:#404040;">3</div>
<div style="left:0px;top:87px;width:36px;height:1px;background:#dcdcdc;"></div>
<div class="t" style="left:15.14px;top:68px;font-size:15.5px;color:#404040;">4</div>
<div style="left:0px;top:111px;width:36px;height:1px;background:#dcdcdc;"></div>
<div class="t" style="left:15.11px;top:92px;font-size:15.5px;color:#404040;">5</div>
<div style="left:0px;top:135px;width:36px;height:1px;background:#dcdcdc;"></div>
<div class="t" style="left:15.04px;top:116px;font-size:15.5px;color:#404040;">6</div>
<div style="left:0px;top:159px;width:36px;height:1px;background:#dcdcdc;"></div>
<div class="t" style="left:15.08px;top:140px;font-size:15.5px;color:#404040;">7</div>
<div style="left:0px;top:183px;width:36px;height:1px;background:#dcdcdc;"></div>
<div class="t" style="left:15.09px;top:164px;font-size:15.5px;color:#404040;">8</div>
<div style="left:0px;top:207px;width:36px;height:1px;background:#dcdcdc;"></div>
<div class="t" style="left:15.09px;top:188px;font-size:15.5px;color:#404040;">9</div>
<div style="left:0px;top:231px;width:36px;height:1px;background:#dcdcdc;"></div>
<div class="t" style="left:10.50px;top:212px;font-size:15.5px;color:#404040;">10</div>
<div style="left:0px;top:255px;width:36px;height:1px;background:#dcdcdc;"></div>
<div class="t" style="left:11.15px;top:236px;font-size:15.5px;color:#404040;">11</div>
<div style="left:0px;top:279px;width:36px;height:1px;background:#dcdcdc;"></div>
<div class="t" style="left:10.58px;top:260px;font-size:15.5px;color:#404040;">12</div>
<div style="left:0px;top:303px;width:36px;height:1px;background:#dcdcdc;"></div>
<div class="t" style="left:10.53px;top:284px;font-size:15.5px;color:#404040;">13</div>
<div style="left:0px;top:327px;width:36px;height:1px;background:#dcdcdc;"></div>
<div class="t" style="left:10.42px;top:308px;font-size:15.5px;color:#404040;">14</div>
<div style="left:0px;top:351px;width:36px;height:1px;background:#dcdcdc;"></div>
<div class="t" style="left:10.52px;top:332px;font-size:15.5px;color:#404040;">15</div>
<div style="left:0px;top:375px;width:36px;height:1px;background:#dcdcdc;"></div>
<div class="t" style="left:10.53px;top:356px;font-size:15.5px;color:#404040;">16</div>
<div style="left:0px;top:399px;width:36px;height:1px;background:#dcdcdc;"></div>
<div class="t" style="left:10.58px;top:380px;font-size:15.5px;color:#404040;">17</div>
<div style="left:0px;top:423px;width:36px;height:1px;background:#dcdcdc;"></div>
<div class="t" style="left:10.53px;top:404px;font-size:15.5px;color:#404040;">18</div>
<div style="left:0px;top:447px;width:36px;height:1px;background:#dcdcdc;"></div>
<div class="t" style="left:10.56px;top:428px;font-size:15.5px;color:#404040;">19</div>
<div style="left:0px;top:471px;width:36px;height:1px;background:#dcdcdc;"></div>
<div class="t" style="left:10.70px;top:452px;font-size:15.5px;color:#404040;">20</div>
<div style="left:0px;top:495px;width:36px;height:1px;background:#dcdcdc;"></div>
<div class="t" style="left:10.77px;top:476px;font-size:15.5px;color:#404040;">21</div>
<div style="left:0px;top:519px;width:36px;height:1px;background:#dcdcdc;"></div>
<div class="t" style="left:10.78px;top:500px;font-size:15.5px;color:#404040;">22</div>
<div style="left:0px;top:543px;width:36px;height:1px;background:#dcdcdc;"></div>
<div class="t" style="left:10.74px;top:524px;font-size:15.5px;color:#404040;">23</div>
<div style="left:0px;top:575px;width:36px;height:1px;background:#dcdcdc;"></div>
<div class="t" style="left:10.62px;top:554px;font-size:15.5px;color:#404040;">24</div>
<div style="left:0px;top:576px;width:36px;height:24px;background:#d3f0e0;"></div>
<div style="left:0px;top:600px;width:36px;height:1px;background:#dcdcdc;"></div>
<div class="t" style="left:10.72px;top:579px;font-size:15.5px;color:#1f7246;">25</div>
<div style="left:0px;top:625px;width:36px;height:1px;background:#dcdcdc;"></div>
<div class="t" style="left:10.74px;top:604px;font-size:15.5px;color:#404040;">26</div>
<div style="left:36px;top:26px;width:997px;height:7px;background:#000;"></div>
<div style="left:36px;top:33px;width:997px;height:31px;background:#262626;"></div>
<div style="left:36px;top:62px;width:997px;height:2px;background:#000;"></div>
<div style="left:187px;top:33px;width:1px;height:30px;background:#000;"></div>
<div style="left:291px;top:33px;width:1px;height:30px;background:#000;"></div>
<div style="left:400px;top:33px;width:1px;height:30px;background:#000;"></div>
<div style="left:561px;top:33px;width:1px;height:30px;background:#000;"></div>
<div style="left:668px;top:33px;width:2px;height:30px;background:#000;"></div>
<div style="left:830px;top:33px;width:1px;height:30px;background:#000;"></div>
<div style="left:1032px;top:33px;width:1px;height:30px;background:#000;"></div>
<div class="t" style="left:68.12px;top:39px;font-size:20px;font-weight:bold;color:#fff;transform:scaleX(0.9893);">Produtos</div>
<div class="t" style="left:196.03px;top:39px;font-size:20px;font-weight:bold;color:#fff;transform:scaleX(1.0102);">Tamanho</div>
<div class="t" style="left:300.49px;top:39px;font-size:20px;font-weight:bold;color:#fff;transform:scaleX(0.9851);">Categoria</div>
<div class="t" style="left:411.59px;top:39px;font-size:20px;font-weight:bold;color:#fff;transform:scaleX(1.0172);">Preço Unitário</div>
<div class="t" style="left:597.56px;top:39px;font-size:20px;font-weight:bold;color:#fff;transform:scaleX(1.0805);">Qtd</div>
<div class="t" style="left:698.75px;top:39px;font-size:20px;font-weight:bold;color:#fff;transform:scaleX(1.0383);">Valor Total</div>
<div class="t" style="left:844.41px;top:39px;font-size:20px;font-weight:bold;color:#fff;transform:scaleX(1.0065);">Valor de Desconto</div>
<div style="left:36px;top:64px;width:997px;height:479px;background:#fff;"></div>
<div style="left:36px;top:87px;width:997px;height:1px;background:#000;"></div>
<div style="left:36px;top:111px;width:997px;height:1px;background:#000;"></div>
<div style="left:36px;top:135px;width:997px;height:1px;background:#000;"></div>
<div style="left:36px;top:159px;width:997px;height:1px;background:#000;"></div>
<div style="left:36px;top:183px;width:997px;height:1px;background:#000;"></div>
<div style="left:36px;top:207px;width:997px;height:1px;background:#000;"></div>
<div style="left:36px;top:231px;width:997px;height:1px;background:#000;"></div>
<div style="left:36px;top:255px;width:997px;height:1px;background:#000;"></div>
<div style="left:36px;top:279px;width:997px;height:1px;background:#000;"></div>
<div style="left:36px;top:303px;width:997px;height:1px;background:#000;"></div>
<div style="left:36px;top:327px;width:997px;height:1px;background:#000;"></div>
<div style="left:36px;top:351px;width:997px;height:1px;background:#000;"></div>
<div style="left:36px;top:375px;width:997px;height:1px;background:#000;"></div>
<div style="left:36px;top:399px;width:997px;height:1px;background:#000;"></div>
<div style="left:36px;top:423px;width:997px;height:1px;background:#000;"></div>
<div style="left:36px;top:447px;width:997px;height:1px;background:#000;"></div>
<div style="left:36px;top:471px;width:997px;height:1px;background:#000;"></div>
<div style="left:36px;top:495px;width:997px;height:1px;background:#000;"></div>
<div style="left:36px;top:519px;width:997px;height:1px;background:#000;"></div>
<div style="left:36px;top:543px;width:997px;height:1px;background:#000;"></div>
<div style="left:187px;top:64px;width:1px;height:479px;background:#000;"></div>
<div style="left:291px;top:64px;width:1px;height:479px;background:#000;"></div>
<div style="left:400px;top:64px;width:1px;height:479px;background:#000;"></div>
<div style="left:561px;top:64px;width:1px;height:479px;background:#000;"></div>
<div style="left:668px;top:64px;width:2px;height:479px;background:#000;"></div>
<div style="left:830px;top:64px;width:1px;height:479px;background:#000;"></div>
<div style="left:1032px;top:64px;width:1px;height:479px;background:#000;"></div>
<div class="t s" style="left:38.66px;top:68px;font-size:15.5px;transform:scaleX(1.0162);">Camiseta Lisa</div>
<div class="t s" style="left:234.92px;top:68px;font-size:15.5px;transform:scaleX(0.8853);">P</div>
<div class="t s" style="left:295.33px;top:68px;font-size:15.5px;transform:scaleX(1.0781);">Vestuário</div>
<div class="t s" style="left:409.79px;top:68px;font-size:15.5px;transform:scaleX(0.9513);">R$</div>
<div class="t s" style="left:512.18px;top:68px;font-size:15.5px;transform:scaleX(1.0300);">25,90</div>
<div class="t s" style="left:606.52px;top:68px;font-size:15.5px;transform:scaleX(1.0300);">12</div>
<div class="t s" style="left:678.79px;top:68px;font-size:15.5px;transform:scaleX(0.9513);">R$</div>
<div class="t s" style="left:772.30px;top:68px;font-size:15.5px;transform:scaleX(1.0300);">310,80</div>
<div class="t s" style="left:911.04px;top:68px;font-size:15.5px;transform:scaleX(0.9610);">#REF!</div>
<svg style="left:831px;top:64px" width="7" height="7" viewBox="0 0 7 7"><path d="M0 0H7L0 7Z" fill="#1d7a1d"/></svg>
<div class="t s" style="left:38.66px;top:92px;font-size:15.5px;transform:scaleX(1.0162);">Camiseta Lisa</div>
<div class="t s" style="left:231.86px;top:92px;font-size:15.5px;transform:scaleX(1.2151);">M</div>
<div class="t s" style="left:295.33px;top:92px;font-size:15.5px;transform:scaleX(1.0781);">Vestuário</div>
<div class="t s" style="left:409.79px;top:92px;font-size:15.5px;transform:scaleX(0.9513);">R$</div>
<div class="t s" style="left:512.18px;top:92px;font-size:15.5px;transform:scaleX(1.0300);">29,90</div>
<div class="t s" style="left:606.43px;top:92px;font-size:15.5px;transform:scaleX(1.0300);">10</div>
<div class="t s" style="left:678.79px;top:92px;font-size:15.5px;transform:scaleX(0.9513);">R$</div>
<div class="t s" style="left:772.30px;top:92px;font-size:15.5px;transform:scaleX(1.0300);">299,00</div>
<div class="t s" style="left:911.04px;top:92px;font-size:15.5px;transform:scaleX(0.9610);">#REF!</div>
<svg style="left:831px;top:88px" width="7" height="7" viewBox="0 0 7 7"><path d="M0 0H7L0 7Z" fill="#1d7a1d"/></svg>
<div class="t s" style="left:38.66px;top:116px;font-size:15.5px;transform:scaleX(1.0162);">Camiseta Lisa</div>
<div class="t s" style="left:233.91px;top:116px;font-size:15.5px;transform:scaleX(0.9929);">G</div>
<div class="t s" style="left:295.33px;top:116px;font-size:15.5px;transform:scaleX(1.0781);">Vestuário</div>
<div class="t s" style="left:409.79px;top:116px;font-size:15.5px;transform:scaleX(0.9513);">R$</div>
<div class="t s" style="left:512.18px;top:116px;font-size:15.5px;transform:scaleX(1.0300);">32,90</div>
<div class="t s" style="left:611.11px;top:116px;font-size:15.5px;transform:scaleX(1.0300);">6</div>
<div class="t s" style="left:678.79px;top:116px;font-size:15.5px;transform:scaleX(0.9513);">R$</div>
<div class="t s" style="left:772.30px;top:116px;font-size:15.5px;transform:scaleX(1.0300);">197,40</div>
<div class="t s" style="left:911.04px;top:116px;font-size:15.5px;transform:scaleX(0.9610);">#REF!</div>
<svg style="left:831px;top:112px" width="7" height="7" viewBox="0 0 7 7"><path d="M0 0H7L0 7Z" fill="#1d7a1d"/></svg>
<div class="t s" style="left:38.70px;top:140px;font-size:15.5px;transform:scaleX(1.0458);">Óculos</div>
<div class="t s" style="left:217.80px;top:140px;font-size:15.5px;transform:scaleX(1.0903);">Único</div>
<div class="t s" style="left:295.37px;top:140px;font-size:15.5px;transform:scaleX(1.0276);">Acessórios</div>
<div class="t s" style="left:409.79px;top:140px;font-size:15.5px;transform:scaleX(0.9513);">R$</div>
<div class="t s" style="left:503.30px;top:140px;font-size:15.5px;transform:scaleX(1.0300);">399,90</div>
<div class="t s" style="left:611.21px;top:140px;font-size:15.5px;transform:scaleX(1.0300);">3</div>
<div class="t s" style="left:678.79px;top:140px;font-size:15.5px;transform:scaleX(0.9513);">R$</div>
<div class="t s" style="left:758.99px;top:140px;font-size:15.5px;transform:scaleX(1.0300);">1.199,70</div>
<div class="t s" style="left:911.04px;top:140px;font-size:15.5px;transform:scaleX(0.9610);">#REF!</div>
<svg style="left:831px;top:136px" width="7" height="7" viewBox="0 0 7 7"><path d="M0 0H7L0 7Z" fill="#1d7a1d"/></svg>
<div class="t s" style="left:39.05px;top:164px;font-size:15.5px;transform:scaleX(1.0273);">Jaqueta</div>
<div class="t s" style="left:234.92px;top:164px;font-size:15.5px;transform:scaleX(0.8853);">P</div>
<div class="t s" style="left:295.33px;top:164px;font-size:15.5px;transform:scaleX(1.0781);">Vestuário</div>
<div class="t s" style="left:409.79px;top:164px;font-size:15.5px;transform:scaleX(0.9513);">R$</div>
<div class="t s" style="left:503.30px;top:164px;font-size:15.5px;transform:scaleX(1.0300);">249,90</div>
<div class="t s" style="left:610.95px;top:164px;font-size:15.5px;transform:scaleX(1.0300);">1</div>
<div class="t s" style="left:678.79px;top:164px;font-size:15.5px;transform:scaleX(0.9513);">R$</div>
<div class="t s" style="left:772.30px;top:164px;font-size:15.5px;transform:scaleX(1.0300);">249,90</div>
<div class="t s" style="left:911.04px;top:164px;font-size:15.5px;transform:scaleX(0.9610);">#REF!</div>
<svg style="left:831px;top:160px" width="7" height="7" viewBox="0 0 7 7"><path d="M0 0H7L0 7Z" fill="#1d7a1d"/></svg>
<div class="t s" style="left:39.05px;top:188px;font-size:15.5px;transform:scaleX(1.0273);">Jaqueta</div>
<div class="t s" style="left:231.86px;top:188px;font-size:15.5px;transform:scaleX(1.2151);">M</div>
<div class="t s" style="left:295.33px;top:188px;font-size:15.5px;transform:scaleX(1.0781);">Vestuário</div>
<div class="t s" style="left:409.79px;top:188px;font-size:15.5px;transform:scaleX(0.9513);">R$</div>
<div class="t s" style="left:503.30px;top:188px;font-size:15.5px;transform:scaleX(1.0300);">259,90</div>
<div class="t s" style="left:611.16px;top:188px;font-size:15.5px;transform:scaleX(1.0300);">2</div>
<div class="t s" style="left:678.79px;top:188px;font-size:15.5px;transform:scaleX(0.9513);">R$</div>
<div class="t s" style="left:772.30px;top:188px;font-size:15.5px;transform:scaleX(1.0300);">519,80</div>
<div class="t s" style="left:911.04px;top:188px;font-size:15.5px;transform:scaleX(0.9610);">#REF!</div>
<svg style="left:831px;top:184px" width="7" height="7" viewBox="0 0 7 7"><path d="M0 0H7L0 7Z" fill="#1d7a1d"/></svg>
<div class="t s" style="left:39.05px;top:212px;font-size:15.5px;transform:scaleX(1.0273);">Jaqueta</div>
<div class="t s" style="left:233.91px;top:212px;font-size:15.5px;transform:scaleX(0.9929);">G</div>
<div class="t s" style="left:295.33px;top:212px;font-size:15.5px;transform:scaleX(1.0781);">Vestuário</div>
<div class="t s" style="left:409.79px;top:212px;font-size:15.5px;transform:scaleX(0.9513);">R$</div>
<div class="t s" style="left:503.30px;top:212px;font-size:15.5px;transform:scaleX(1.0300);">299,90</div>
<div class="t s" style="left:610.95px;top:212px;font-size:15.5px;transform:scaleX(1.0300);">1</div>
<div class="t s" style="left:678.79px;top:212px;font-size:15.5px;transform:scaleX(0.9513);">R$</div>
<div class="t s" style="left:772.30px;top:212px;font-size:15.5px;transform:scaleX(1.0300);">299,90</div>
<div class="t s" style="left:911.04px;top:212px;font-size:15.5px;transform:scaleX(0.9610);">#REF!</div>
<svg style="left:831px;top:208px" width="7" height="7" viewBox="0 0 7 7"><path d="M0 0H7L0 7Z" fill="#1d7a1d"/></svg>
<div class="t s" style="left:38.66px;top:236px;font-size:15.5px;transform:scaleX(1.0066);">Calça</div>
<div class="t s" style="left:234.92px;top:236px;font-size:15.5px;transform:scaleX(0.8853);">P</div>
<div class="t s" style="left:295.33px;top:236px;font-size:15.5px;transform:scaleX(1.0781);">Vestuário</div>
<div class="t s" style="left:409.79px;top:236px;font-size:15.5px;transform:scaleX(0.9513);">R$</div>
<div class="t s" style="left:512.18px;top:236px;font-size:15.5px;transform:scaleX(1.0300);">85,90</div>
<div class="t s" style="left:611.16px;top:236px;font-size:15.5px;transform:scaleX(1.0300);">8</div>
<div class="t s" style="left:678.79px;top:236px;font-size:15.5px;transform:scaleX(0.9513);">R$</div>
<div class="t s" style="left:772.30px;top:236px;font-size:15.5px;transform:scaleX(1.0300);">687,20</div>
<div class="t s" style="left:911.04px;top:236px;font-size:15.5px;transform:scaleX(0.9610);">#REF!</div>
<svg style="left:831px;top:232px" width="7" height="7" viewBox="0 0 7 7"><path d="M0 0H7L0 7Z" fill="#1d7a1d"/></svg>
<div class="t s" style="left:38.66px;top:260px;font-size:15.5px;transform:scaleX(1.0066);">Calça</div>
<div class="t s" style="left:231.86px;top:260px;font-size:15.5px;transform:scaleX(1.2151);">M</div>
<div class="t s" style="left:295.33px;top:260px;font-size:15.5px;transform:scaleX(1.0781);">Vestuário</div>
<div class="t s" style="left:409.79px;top:260px;font-size:15.5px;transform:scaleX(0.9513);">R$</div>
<div class="t s" style="left:512.18px;top:260px;font-size:15.5px;transform:scaleX(1.0300);">89,90</div>
<div class="t s" style="left:611.18px;top:260px;font-size:15.5px;transform:scaleX(1.0300);">5</div>
<div class="t s" style="left:678.79px;top:260px;font-size:15.5px;transform:scaleX(0.9513);">R$</div>
<div class="t s" style="left:772.30px;top:260px;font-size:15.5px;transform:scaleX(1.0300);">449,50</div>
<div class="t s" style="left:911.04px;top:260px;font-size:15.5px;transform:scaleX(0.9610);">#REF!</div>
<svg style="left:831px;top:256px" width="7" height="7" viewBox="0 0 7 7"><path d="M0 0H7L0 7Z" fill="#1d7a1d"/></svg>
<div class="t s" style="left:38.66px;top:284px;font-size:15.5px;transform:scaleX(1.0066);">Calça</div>
<div class="t s" style="left:233.91px;top:284px;font-size:15.5px;transform:scaleX(0.9929);">G</div>
<div class="t s" style="left:295.33px;top:284px;font-size:15.5px;transform:scaleX(1.0781);">Vestuário</div>
<div class="t s" style="left:409.79px;top:284px;font-size:15.5px;transform:scaleX(0.9513);">R$</div>
<div class="t s" style="left:512.18px;top:284px;font-size:15.5px;transform:scaleX(1.0300);">92,90</div>
<div class="t s" style="left:611.11px;top:284px;font-size:15.5px;transform:scaleX(1.0300);">6</div>
<div class="t s" style="left:678.79px;top:284px;font-size:15.5px;transform:scaleX(0.9513);">R$</div>
<div class="t s" style="left:772.30px;top:284px;font-size:15.5px;transform:scaleX(1.0300);">557,40</div>
<div class="t s" style="left:911.04px;top:284px;font-size:15.5px;transform:scaleX(0.9610);">#REF!</div>
<svg style="left:831px;top:280px" width="7" height="7" viewBox="0 0 7 7"><path d="M0 0H7L0 7Z" fill="#1d7a1d"/></svg>
<div class="t s" style="left:39.39px;top:308px;font-size:15.5px;transform:scaleX(1.0813);">Vestido</div>
<div class="t s" style="left:217.80px;top:308px;font-size:15.5px;transform:scaleX(1.0903);">Único</div>
<div class="t s" style="left:295.33px;top:308px;font-size:15.5px;transform:scaleX(1.0781);">Vestuário</div>
<div class="t s" style="left:409.79px;top:308px;font-size:15.5px;transform:scaleX(0.9513);">R$</div>
<div class="t s" style="left:503.30px;top:308px;font-size:15.5px;transform:scaleX(1.0300);">149,90</div>
<div class="t s" style="left:611.16px;top:308px;font-size:15.5px;transform:scaleX(1.0300);">2</div>
<div class="t s" style="left:678.79px;top:308px;font-size:15.5px;transform:scaleX(0.9513);">R$</div>
<div class="t s" style="left:772.30px;top:308px;font-size:15.5px;transform:scaleX(1.0300);">299,80</div>
<div class="t s" style="left:911.04px;top:308px;font-size:15.5px;transform:scaleX(0.9610);">#REF!</div>
<svg style="left:831px;top:304px" width="7" height="7" viewBox="0 0 7 7"><path d="M0 0H7L0 7Z" fill="#1d7a1d"/></svg>
<div class="t s" style="left:38.87px;top:332px;font-size:15.5px;transform:scaleX(1.0482);">Bermuda</div>
<div class="t s" style="left:234.92px;top:332px;font-size:15.5px;transform:scaleX(0.8853);">P</div>
<div class="t s" style="left:295.33px;top:332px;font-size:15.5px;transform:scaleX(1.0781);">Vestuário</div>
<div class="t s" style="left:409.79px;top:332px;font-size:15.5px;transform:scaleX(0.9513);">R$</div>
<div class="t s" style="left:512.18px;top:332px;font-size:15.5px;transform:scaleX(1.0300);">65,90</div>
<div class="t s" style="left:606.52px;top:332px;font-size:15.5px;transform:scaleX(1.0300);">12</div>
<div class="t s" style="left:678.79px;top:332px;font-size:15.5px;transform:scaleX(0.9513);">R$</div>
<div class="t s" style="left:772.30px;top:332px;font-size:15.5px;transform:scaleX(1.0300);">790,80</div>
<div class="t s" style="left:911.04px;top:332px;font-size:15.5px;transform:scaleX(0.9610);">#REF!</div>
<svg style="left:831px;top:328px" width="7" height="7" viewBox="0 0 7 7"><path d="M0 0H7L0 7Z" fill="#1d7a1d"/></svg>
<div class="t s" style="left:38.87px;top:356px;font-size:15.5px;transform:scaleX(1.0482);">Bermuda</div>
<div class="t s" style="left:231.86px;top:356px;font-size:15.5px;transform:scaleX(1.2151);">M</div>
<div class="t s" style="left:295.33px;top:356px;font-size:15.5px;transform:scaleX(1.0781);">Vestuário</div>
<div class="t s" style="left:409.79px;top:356px;font-size:15.5px;transform:scaleX(0.9513);">R$</div>
<div class="t s" style="left:512.18px;top:356px;font-size:15.5px;transform:scaleX(1.0300);">69,90</div>
<div class="t s" style="left:606.45px;top:356px;font-size:15.5px;transform:scaleX(1.0300);">15</div>
<div class="t s" style="left:678.79px;top:356px;font-size:15.5px;transform:scaleX(0.9513);">R$</div>
<div class="t s" style="left:758.99px;top:356px;font-size:15.5px;transform:scaleX(1.0300);">1.048,50</div>
<div class="t s" style="left:911.04px;top:356px;font-size:15.5px;transform:scaleX(0.9610);">#REF!</div>
<svg style="left:831px;top:352px" width="7" height="7" viewBox="0 0 7 7"><path d="M0 0H7L0 7Z" fill="#1d7a1d"/></svg>
<div class="t s" style="left:38.87px;top:380px;font-size:15.5px;transform:scaleX(1.0482);">Bermuda</div>
<div class="t s" style="left:233.91px;top:380px;font-size:15.5px;transform:scaleX(0.9929);">G</div>
<div class="t s" style="left:295.33px;top:380px;font-size:15.5px;transform:scaleX(1.0781);">Vestuário</div>
<div class="t s" style="left:409.79px;top:380px;font-size:15.5px;transform:scaleX(0.9513);">R$</div>
<div class="t s" style="left:512.18px;top:380px;font-size:15.5px;transform:scaleX(1.0300);">70,90</div>
<div class="t s" style="left:606.47px;top:380px;font-size:15.5px;transform:scaleX(1.0300);">13</div>
<div class="t s" style="left:678.79px;top:380px;font-size:15.5px;transform:scaleX(0.9513);">R$</div>
<div class="t s" style="left:772.30px;top:380px;font-size:15.5px;transform:scaleX(1.0300);">921,70</div>
<div class="t s" style="left:911.04px;top:380px;font-size:15.5px;transform:scaleX(0.9610);">#REF!</div>
<svg style="left:831px;top:376px" width="7" height="7" viewBox="0 0 7 7"><path d="M0 0H7L0 7Z" fill="#1d7a1d"/></svg>
<div class="t s" style="left:38.65px;top:404px;font-size:15.5px;transform:scaleX(1.0190);">Tênis</div>
<div class="t s" style="left:230.87px;top:404px;font-size:15.5px;transform:scaleX(1.0300);">36</div>
<div class="t s" style="left:294.57px;top:404px;font-size:15.5px;transform:scaleX(1.0500);">Calçado</div>
<div class="t s" style="left:409.79px;top:404px;font-size:15.5px;transform:scaleX(0.9513);">R$</div>
<div class="t s" style="left:503.30px;top:404px;font-size:15.5px;transform:scaleX(1.0300);">199,90</div>
<div class="t s" style="left:611.16px;top:404px;font-size:15.5px;transform:scaleX(1.0300);">2</div>
<div class="t s" style="left:678.79px;top:404px;font-size:15.5px;transform:scaleX(0.9513);">R$</div>
<div class="t s" style="left:772.30px;top:404px;font-size:15.5px;transform:scaleX(1.0300);">399,80</div>
<div class="t s" style="left:911.04px;top:404px;font-size:15.5px;transform:scaleX(0.9610);">#REF!</div>
<svg style="left:831px;top:400px" width="7" height="7" viewBox="0 0 7 7"><path d="M0 0H7L0 7Z" fill="#1d7a1d"/></svg>
<div class="t s" style="left:38.65px;top:428px;font-size:15.5px;transform:scaleX(1.0190);">Tênis</div>
<div class="t s" style="left:230.92px;top:428px;font-size:15.5px;transform:scaleX(1.0300);">37</div>
<div class="t s" style="left:294.57px;top:428px;font-size:15.5px;transform:scaleX(1.0500);">Calçado</div>
<div class="t s" style="left:409.79px;top:428px;font-size:15.5px;transform:scaleX(0.9513);">R$</div>
<div class="t s" style="left:503.30px;top:428px;font-size:15.5px;transform:scaleX(1.0300);">249,90</div>
<div class="t s" style="left:610.95px;top:428px;font-size:15.5px;transform:scaleX(1.0300);">1</div>
<div class="t s" style="left:678.79px;top:428px;font-size:15.5px;transform:scaleX(0.9513);">R$</div>
<div class="t s" style="left:772.30px;top:428px;font-size:15.5px;transform:scaleX(1.0300);">249,90</div>
<div class="t s" style="left:911.04px;top:428px;font-size:15.5px;transform:scaleX(0.9610);">#REF!</div>
<svg style="left:831px;top:424px" width="7" height="7" viewBox="0 0 7 7"><path d="M0 0H7L0 7Z" fill="#1d7a1d"/></svg>
<div class="t s" style="left:38.65px;top:452px;font-size:15.5px;transform:scaleX(1.0190);">Tênis</div>
<div class="t s" style="left:230.86px;top:452px;font-size:15.5px;transform:scaleX(1.0300);">38</div>
<div class="t s" style="left:294.57px;top:452px;font-size:15.5px;transform:scaleX(1.0500);">Calçado</div>
<div class="t s" style="left:409.79px;top:452px;font-size:15.5px;transform:scaleX(0.9513);">R$</div>
<div class="t s" style="left:503.30px;top:452px;font-size:15.5px;transform:scaleX(1.0300);">259,90</div>
<div class="t s" style="left:611.16px;top:452px;font-size:15.5px;transform:scaleX(1.0300);">0</div>
<div class="t s" style="left:678.79px;top:452px;font-size:15.5px;transform:scaleX(0.9513);">R$</div>
<div class="t s" style="left:795.92px;top:452px;font-size:15.5px;">-</div>
<div class="t s" style="left:911.04px;top:452px;font-size:15.5px;transform:scaleX(0.9610);">#REF!</div>
<svg style="left:831px;top:448px" width="7" height="7" viewBox="0 0 7 7"><path d="M0 0H7L0 7Z" fill="#1d7a1d"/></svg>
<div class="t s" style="left:38.88px;top:476px;font-size:15.5px;transform:scaleX(1.0348);">Bolsa</div>
<div class="t s" style="left:217.80px;top:476px;font-size:15.5px;transform:scaleX(1.0903);">Único</div>
<div class="t s" style="left:295.37px;top:476px;font-size:15.5px;transform:scaleX(1.0276);">Acessórios</div>
<div class="t s" style="left:409.79px;top:476px;font-size:15.5px;transform:scaleX(0.9513);">R$</div>
<div class="t s" style="left:503.30px;top:476px;font-size:15.5px;transform:scaleX(1.0300);">259,90</div>
<div class="t s" style="left:610.95px;top:476px;font-size:15.5px;transform:scaleX(1.0300);">1</div>
<div class="t s" style="left:678.79px;top:476px;font-size:15.5px;transform:scaleX(0.9513);">R$</div>
<div class="t s" style="left:772.30px;top:476px;font-size:15.5px;transform:scaleX(1.0300);">259,90</div>
<div class="t s" style="left:911.04px;top:476px;font-size:15.5px;transform:scaleX(0.9610);">#REF!</div>
<svg style="left:831px;top:472px" width="7" height="7" viewBox="0 0 7 7"><path d="M0 0H7L0 7Z" fill="#1d7a1d"/></svg>
<div class="t s" style="left:38.83px;top:500px;font-size:15.5px;transform:scaleX(1.0777);">Boné</div>
<div class="t s" style="left:217.80px;top:500px;font-size:15.5px;transform:scaleX(1.0903);">Único</div>
<div class="t s" style="left:295.37px;top:500px;font-size:15.5px;transform:scaleX(1.0276);">Acessórios</div>
<div class="t s" style="left:409.79px;top:500px;font-size:15.5px;transform:scaleX(0.9513);">R$</div>
<div class="t s" style="left:503.30px;top:500px;font-size:15.5px;transform:scaleX(1.0300);">139,90</div>
<div class="t s" style="left:607.10px;top:500px;font-size:15.5px;transform:scaleX(1.0300);">11</div>
<div class="t s" style="left:678.79px;top:500px;font-size:15.5px;transform:scaleX(0.9513);">R$</div>
<div class="t s" style="left:758.99px;top:500px;font-size:15.5px;transform:scaleX(1.0300);">1.538,90</div>
<div class="t s" style="left:911.04px;top:500px;font-size:15.5px;transform:scaleX(0.9610);">#REF!</div>
<svg style="left:831px;top:496px" width="7" height="7" viewBox="0 0 7 7"><path d="M0 0H7L0 7Z" fill="#1d7a1d"/></svg>
<div class="t s" style="left:38.60px;top:524px;font-size:15.5px;transform:scaleX(1.0911);">Cinto</div>
<div class="t s" style="left:217.80px;top:524px;font-size:15.5px;transform:scaleX(1.0903);">Único</div>
<div class="t s" style="left:295.37px;top:524px;font-size:15.5px;transform:scaleX(1.0276);">Acessórios</div>
<div class="t s" style="left:409.79px;top:524px;font-size:15.5px;transform:scaleX(0.9513);">R$</div>
<div class="t s" style="left:512.18px;top:524px;font-size:15.5px;transform:scaleX(1.0300);">49,90</div>
<div class="t s" style="left:606.72px;top:524px;font-size:15.5px;transform:scaleX(1.0300);">21</div>
<div class="t s" style="left:678.79px;top:524px;font-size:15.5px;transform:scaleX(0.9513);">R$</div>
<div class="t s" style="left:758.99px;top:524px;font-size:15.5px;transform:scaleX(1.0300);">1.047,90</div>
<div class="t s" style="left:911.04px;top:524px;font-size:15.5px;transform:scaleX(0.9610);">#REF!</div>
<svg style="left:831px;top:520px" width="7" height="7" viewBox="0 0 7 7"><path d="M0 0H7L0 7Z" fill="#1d7a1d"/></svg>
<div style="left:36px;top:543px;width:997px;height:33px;background:#000;"></div>
<div style="left:36px;top:545px;width:364px;height:29px;background:#262626;"></div>
<div style="left:401px;top:545px;width:428px;height:29px;background:#dbff00;"></div>
<div style="left:831px;top:545px;width:200px;height:29px;background:#dbff00;"></div>
<div class="t" style="left:340.99px;top:551px;font-size:20px;font-weight:bold;color:#fff;transform:scaleX(0.9759);">Totais</div>
<div class="t" style="left:410.01px;top:554px;font-size:15.5px;font-weight:bold;transform:scaleX(0.9540);">R$</div>
<div class="t" style="left:488.12px;top:554px;font-size:15.5px;font-weight:bold;transform:scaleX(1.0652);">3.083,00</div>
<div class="t" style="left:602.10px;top:554px;font-size:15.5px;font-weight:bold;transform:scaleX(1.0300);">132</div>
<div class="t" style="left:679.01px;top:554px;font-size:15.5px;font-weight:bold;transform:scaleX(0.9540);">R$</div>
<div class="t" style="left:747.85px;top:554px;font-size:15.5px;font-weight:bold;transform:scaleX(1.0800);">11.327,80</div>
<div class="t" style="left:910.75px;top:554px;font-size:15.5px;font-weight:bold;transform:scaleX(0.9525);">#REF!</div>
<svg style="left:831px;top:545px" width="7" height="7" viewBox="0 0 7 7"><path d="M0 0H7L0 7Z" fill="#1d7a1d"/></svg>
<div style="left:36px;top:576px;width:1041px;height:24px;background:#c6c6c6;"></div>
<div style="left:36px;top:576px;width:151px;height:24px;background:#fff;"></div>
<div style="left:291px;top:576px;width:1px;height:24px;background:#b8b8b8;"></div>
<div style="left:400px;top:576px;width:1px;height:24px;background:#b8b8b8;"></div>
<div style="left:561px;top:576px;width:1px;height:24px;background:#b8b8b8;"></div>
<div style="left:669px;top:576px;width:1px;height:24px;background:#b8b8b8;"></div>
<div style="left:830px;top:576px;width:1px;height:24px;background:#b8b8b8;"></div>
<div style="left:1032px;top:576px;width:1px;height:24px;background:#b8b8b8;"></div>
<div style="left:36px;top:602px;width:1px;height:12px;background:#e0e0e0;"></div>
<div style="left:187px;top:602px;width:1px;height:12px;background:#e0e0e0;"></div>
<div style="left:291px;top:602px;width:1px;height:12px;background:#e0e0e0;"></div>
<div style="left:400px;top:602px;width:1px;height:12px;background:#e0e0e0;"></div>
<div style="left:561px;top:602px;width:1px;height:12px;background:#e0e0e0;"></div>
<div style="left:669px;top:602px;width:1px;height:12px;background:#e0e0e0;"></div>
<div style="left:830px;top:602px;width:1px;height:12px;background:#e0e0e0;"></div>
<div style="left:1032px;top:602px;width:1px;height:12px;background:#e0e0e0;"></div>
<div style="left:35px;top:574px;width:1041px;height:2px;background:#1f7246;"></div>
<div style="left:35px;top:599px;width:1041px;height:2px;background:#1f7246;"></div>
<div style="left:35px;top:574px;width:2px;height:26px;background:#1f7246;"></div>
<div style="left:34px;top:597px;width:5px;height:5px;background:#1f7246;box-shadow:0 0 0 1px #fff;"></div>
<div style="left:0;top:605px;width:1041px;height:5px;background:linear-gradient(rgba(255,255,255,0),#fff)"></div>
<div style="left:0;top:0;width:4px;height:610px;background:linear-gradient(90deg,#fff,rgba(255,255,255,0))"></div>
</div>
<div class="p" style="left:2136px;top:0;width:1162px;height:631px">
<div style="left:1021px;top:78px;width:1162px;height:1px;background:#e0e0e0;"></div>
<div style="left:1021px;top:109px;width:1162px;height:1px;background:#e0e0e0;"></div>
<div style="left:1021px;top:134px;width:1162px;height:1px;background:#e0e0e0;"></div>
<div style="left:1021px;top:158px;width:1162px;height:1px;background:#e0e0e0;"></div>
<div style="left:1021px;top:182px;width:1162px;height:1px;background:#e0e0e0;"></div>
<div style="left:1021px;top:206px;width:1162px;height:1px;background:#e0e0e0;"></div>
<div style="left:1021px;top:230px;width:1162px;height:1px;background:#e0e0e0;"></div>
<div style="left:1021px;top:254px;width:1162px;height:1px;background:#e0e0e0;"></div>
<div style="left:1021px;top:278px;width:1162px;height:1px;background:#e0e0e0;"></div>
<div style="left:1021px;top:302px;width:1162px;height:1px;background:#e0e0e0;"></div>
<div style="left:1021px;top:326px;width:1162px;height:1px;background:#e0e0e0;"></div>
<div style="left:1021px;top:350px;width:1162px;height:1px;background:#e0e0e0;"></div>
<div style="left:1021px;top:374px;width:1162px;height:1px;background:#e0e0e0;"></div>
<div style="left:1021px;top:398px;width:1162px;height:1px;background:#e0e0e0;"></div>
<div style="left:1021px;top:422px;width:1162px;height:1px;background:#e0e0e0;"></div>
<div style="left:1021px;top:446px;width:1162px;height:1px;background:#e0e0e0;"></div>
<div style="left:1021px;top:470px;width:1162px;height:1px;background:#e0e0e0;"></div>
<div style="left:1021px;top:494px;width:1162px;height:1px;background:#e0e0e0;"></div>
<div style="left:1021px;top:518px;width:1162px;height:1px;background:#e0e0e0;"></div>
<div style="left:1021px;top:542px;width:1162px;height:1px;background:#e0e0e0;"></div>
<div style="left:1021px;top:566px;width:1162px;height:1px;background:#e0e0e0;"></div>
<div style="left:1021px;top:590px;width:1162px;height:1px;background:#e0e0e0;"></div>
<div style="left:1021px;top:622px;width:1162px;height:1px;background:#e0e0e0;"></div>
<div style="left:1022px;top:72px;width:1px;height:631px;background:#e0e0e0;"></div>
<div style="left:1057px;top:72px;width:1px;height:631px;background:#e0e0e0;"></div>
<div style="left:1156px;top:72px;width:1px;height:631px;background:#e0e0e0;"></div>
<div style="left:25px;top:623px;width:1px;height:40px;background:#e0e0e0;"></div>
<div style="left:176px;top:623px;width:1px;height:40px;background:#e0e0e0;"></div>
<div style="left:280px;top:623px;width:1px;height:40px;background:#e0e0e0;"></div>
<div style="left:389px;top:623px;width:1px;height:40px;background:#e0e0e0;"></div>
<div style="left:550px;top:623px;width:1px;height:40px;background:#e0e0e0;"></div>
<div style="left:658px;top:623px;width:1px;height:40px;background:#e0e0e0;"></div>
<div style="left:819px;top:623px;width:1px;height:40px;background:#e0e0e0;"></div>
<div style="left:0px;top:48px;width:1162px;height:24px;background:#f0f0f0;"></div>
<div style="left:176px;top:50px;width:1px;height:23px;background:#dbdbdb;"></div>
<div class="t" style="left:95.83px;top:52px;font-size:15.5px;color:#404040;">A</div>
<div style="left:280px;top:50px;width:1px;height:23px;background:#dbdbdb;"></div>
<div class="t" style="left:223.11px;top:52px;font-size:15.5px;color:#404040;">B</div>
<div style="left:389px;top:50px;width:1px;height:23px;background:#dbdbdb;"></div>
<div class="t" style="left:329.30px;top:52px;font-size:15.5px;color:#404040;">C</div>
<div style="left:550px;top:50px;width:1px;height:23px;background:#dbdbdb;"></div>
<div class="t" style="left:464.14px;top:52px;font-size:15.5px;color:#404040;">D</div>
<div style="left:658px;top:50px;width:1px;height:23px;background:#dbdbdb;"></div>
<div class="t" style="left:599.03px;top:52px;font-size:15.5px;color:#404040;">E</div>
<div style="left:819px;top:50px;width:1px;height:23px;background:#dbdbdb;"></div>
<div class="t" style="left:733.94px;top:52px;font-size:15.5px;color:#404040;">F</div>
<div style="left:819px;top:48px;width:202px;height:24px;background:#e3e3e3;"></div>
<div style="left:819px;top:70px;width:203px;height:2px;background:#1f7246;"></div>
<div style="left:1021px;top:50px;width:1px;height:20px;background:#cfcfcf;"></div>
<div class="t" style="left:914.66px;top:52px;font-size:15.5px;color:#1f7246;">G</div>
<div style="left:1057px;top:50px;width:1px;height:23px;background:#dbdbdb;"></div>
<div class="t" style="left:1033.90px;top:52px;font-size:15.5px;color:#404040;">H</div>
<div style="left:1156px;top:50px;width:1px;height:23px;background:#dbdbdb;"></div>
<div class="t" style="left:1104.85px;top:52px;font-size:15.5px;color:#404040;">I</div>
<div style="left:1212px;top:50px;width:1px;height:23px;background:#dbdbdb;"></div>
<div style="left:0px;top:48px;width:25px;height:24px;background:#f0f0f0;"></div>
<svg style="left:5px;top:51px" width="17" height="17" viewBox="0 0 17 17"><path d="M17 0V17H0Z" fill="#dddfdf"/></svg>
<div style="left:24px;top:48px;width:1px;height:1px;background:#333;"></div>
<div style="left:0px;top:72px;width:25px;height:631px;background:#f0f0f0;"></div>
<div style="left:24px;top:72px;width:1px;height:559px;background:#b9b9b9;"></div>
<div style="left:0px;top:109px;width:25px;height:1px;background:#dcdcdc;"></div>
<div class="t" style="left:4.14px;top:88px;font-size:15.5px;color:#404040;">3</div>
<div style="left:0px;top:111px;width:25px;height:23px;background:#e3e3e3;"></div>
<div style="left:23px;top:111px;width:2px;height:24px;background:#1f7246;"></div>
<div style="left:0px;top:134px;width:23px;height:1px;background:#dcdcdc;"></div>
<div class="t" style="left:4.14px;top:114px;font-size:15.5px;color:#1f7246;">4</div>
<div style="left:0px;top:158px;width:25px;height:1px;background:#dcdcdc;"></div>
<div class="t" style="left:4.11px;top:139px;font-size:15.5px;color:#404040;">5</div>
<div style="left:0px;top:182px;width:25px;height:1px;background:#dcdcdc;"></div>
<div class="t" style="left:4.04px;top:163px;font-size:15.5px;color:#404040;">6</div>
<div style="left:0px;top:206px;width:25px;height:1px;background:#dcdcdc;"></div>
<div class="t" style="left:4.08px;top:187px;font-size:15.5px;color:#404040;">7</div>
<div style="left:0px;top:230px;width:25px;height:1px;background:#dcdcdc;"></div>
<div class="t" style="left:4.09px;top:211px;font-size:15.5px;color:#404040;">8</div>
<div style="left:0px;top:254px;width:25px;height:1px;background:#dcdcdc;"></div>
<div class="t" style="left:4.09px;top:235px;font-size:15.5px;color:#404040;">9</div>
<div style="left:0px;top:278px;width:25px;height:1px;background:#dcdcdc;"></div>
<div class="t" style="left:-0.50px;top:259px;font-size:15.5px;color:#404040;">10</div>
<div style="left:0px;top:302px;width:25px;height:1px;background:#dcdcdc;"></div>
<div class="t" style="left:0.15px;top:283px;font-size:15.5px;color:#404040;">11</div>
<div style="left:0px;top:326px;width:25px;height:1px;background:#dcdcdc;"></div>
<div class="t" style="left:-0.42px;top:307px;font-size:15.5px;color:#404040;">12</div>
<div style="left:0px;top:350px;width:25px;height:1px;background:#dcdcdc;"></div>
<div class="t" style="left:-0.47px;top:331px;font-size:15.5px;color:#404040;">13</div>
<div style="left:0px;top:374px;width:25px;height:1px;background:#dcdcdc;"></div>
<div class="t" style="left:-0.58px;top:355px;font-size:15.5px;color:#404040;">14</div>
<div style="left:0px;top:398px;width:25px;height:1px;background:#dcdcdc;"></div>
<div class="t" style="left:-0.48px;top:379px;font-size:15.5px;color:#404040;">15</div>
<div style="left:0px;top:422px;width:25px;height:1px;background:#dcdcdc;"></div>
<div class="t" style="left:-0.47px;top:403px;font-size:15.5px;color:#404040;">16</div>
<div style="left:0px;top:446px;width:25px;height:1px;background:#dcdcdc;"></div>
<div class="t" style="left:-0.42px;top:427px;font-size:15.5px;color:#404040;">17</div>
<div style="left:0px;top:470px;width:25px;height:1px;background:#dcdcdc;"></div>
<div class="t" style="left:-0.47px;top:451px;font-size:15.5px;color:#404040;">18</div>
<div style="left:0px;top:494px;width:25px;height:1px;background:#dcdcdc;"></div>
<div class="t" style="left:-0.44px;top:475px;font-size:15.5px;color:#404040;">19</div>
<div style="left:0px;top:518px;width:25px;height:1px;background:#dcdcdc;"></div>
<div class="t" style="left:-0.30px;top:499px;font-size:15.5px;color:#404040;">20</div>
<div style="left:0px;top:542px;width:25px;height:1px;background:#dcdcdc;"></div>
<div class="t" style="left:-0.23px;top:523px;font-size:15.5px;color:#404040;">21</div>
<div style="left:0px;top:566px;width:25px;height:1px;background:#dcdcdc;"></div>
<div class="t" style="left:-0.22px;top:547px;font-size:15.5px;color:#404040;">22</div>
<div style="left:0px;top:590px;width:25px;height:1px;background:#dcdcdc;"></div>
<div class="t" style="left:-0.26px;top:571px;font-size:15.5px;color:#404040;">23</div>
<div style="left:0px;top:622px;width:25px;height:1px;background:#dcdcdc;"></div>
<div class="t" style="left:-0.38px;top:601px;font-size:15.5px;color:#404040;">24</div>
<div style="left:0px;top:647px;width:25px;height:1px;background:#dcdcdc;"></div>
<div class="t" style="left:-0.28px;top:626px;font-size:15.5px;color:#404040;">25</div>
<div style="left:25px;top:72px;width:997px;height:7px;background:#000;"></div>
<div style="left:25px;top:79px;width:997px;height:30px;background:#262626;"></div>
<div style="left:25px;top:107px;width:997px;height:2px;background:#000;"></div>
<div style="left:176px;top:79px;width:1px;height:29px;background:#000;"></div>
<div style="left:280px;top:79px;width:1px;height:29px;background:#000;"></div>
<div style="left:389px;top:79px;width:1px;height:29px;background:#000;"></div>
<div style="left:550px;top:79px;width:1px;height:29px;background:#000;"></div>
<div style="left:657px;top:79px;width:2px;height:29px;background:#000;"></div>
<div style="left:819px;top:79px;width:1px;height:29px;background:#000;"></div>
<div style="left:1021px;top:79px;width:1px;height:29px;background:#000;"></div>
<div class="t" style="left:57.12px;top:85px;font-size:20px;font-weight:bold;color:#fff;transform:scaleX(0.9893);">Produtos</div>
<div class="t" style="left:185.03px;top:85px;font-size:20px;font-weight:bold;color:#fff;transform:scaleX(1.0102);">Tamanho</div>
<div class="t" style="left:289.49px;top:85px;font-size:20px;font-weight:bold;color:#fff;transform:scaleX(0.9851);">Categoria</div>
<div class="t" style="left:400.59px;top:85px;font-size:20px;font-weight:bold;color:#fff;transform:scaleX(1.0172);">Preço Unitário</div>
<div class="t" style="left:586.56px;top:85px;font-size:20px;font-weight:bold;color:#fff;transform:scaleX(1.0805);">Qtd</div>
<div class="t" style="left:687.75px;top:85px;font-size:20px;font-weight:bold;color:#fff;transform:scaleX(1.0383);">Valor Total</div>
<div class="t" style="left:833.41px;top:85px;font-size:20px;font-weight:bold;color:#fff;transform:scaleX(1.0065);">Valor de Desconto</div>
<div style="left:25px;top:109px;width:997px;height:481px;background:#fff;"></div>
<div style="left:25px;top:134px;width:997px;height:1px;background:#000;"></div>
<div style="left:25px;top:158px;width:997px;height:1px;background:#000;"></div>
<div style="left:25px;top:182px;width:997px;height:1px;background:#000;"></div>
<div style="left:25px;top:206px;width:997px;height:1px;background:#000;"></div>
<div style="left:25px;top:230px;width:997px;height:1px;background:#000;"></div>
<div style="left:25px;top:254px;width:997px;height:1px;background:#000;"></div>
<div style="left:25px;top:278px;width:997px;height:1px;background:#000;"></div>
<div style="left:25px;top:302px;width:997px;height:1px;background:#000;"></div>
<div style="left:25px;top:326px;width:997px;height:1px;background:#000;"></div>
<div style="left:25px;top:350px;width:997px;height:1px;background:#000;"></div>
<div style="left:25px;top:374px;width:997px;height:1px;background:#000;"></div>
<div style="left:25px;top:398px;width:997px;height:1px;background:#000;"></div>
<div style="left:25px;top:422px;width:997px;height:1px;background:#000;"></div>
<div style="left:25px;top:446px;width:997px;height:1px;background:#000;"></div>
<div style="left:25px;top:470px;width:997px;height:1px;background:#000;"></div>
<div style="left:25px;top:494px;width:997px;height:1px;background:#000;"></div>
<div style="left:25px;top:518px;width:997px;height:1px;background:#000;"></div>
<div style="left:25px;top:542px;width:997px;height:1px;background:#000;"></div>
<div style="left:25px;top:566px;width:997px;height:1px;background:#000;"></div>
<div style="left:25px;top:590px;width:997px;height:1px;background:#000;"></div>
<div style="left:176px;top:109px;width:1px;height:481px;background:#000;"></div>
<div style="left:280px;top:109px;width:1px;height:481px;background:#000;"></div>
<div style="left:389px;top:109px;width:1px;height:481px;background:#000;"></div>
<div style="left:550px;top:109px;width:1px;height:481px;background:#000;"></div>
<div style="left:657px;top:109px;width:2px;height:481px;background:#000;"></div>
<div style="left:819px;top:109px;width:1px;height:481px;background:#000;"></div>
<div style="left:1021px;top:109px;width:1px;height:481px;background:#000;"></div>
<div class="t s" style="left:27.66px;top:114px;font-size:15.5px;transform:scaleX(1.0162);">Camiseta Lisa</div>
<div class="t s" style="left:223.92px;top:114px;font-size:15.5px;transform:scaleX(0.8853);">P</div>
<div class="t s" style="left:284.33px;top:114px;font-size:15.5px;transform:scaleX(1.0781);">Vestuário</div>
<div class="t s" style="left:398.79px;top:114px;font-size:15.5px;transform:scaleX(0.9513);">R$</div>
<div class="t s" style="left:501.18px;top:114px;font-size:15.5px;transform:scaleX(1.0300);">25,90</div>
<div class="t s" style="left:595.52px;top:114px;font-size:15.5px;transform:scaleX(1.0300);">12</div>
<div class="t s" style="left:667.79px;top:114px;font-size:15.5px;transform:scaleX(0.9513);">R$</div>
<div class="t s" style="left:761.30px;top:114px;font-size:15.5px;transform:scaleX(1.0300);">310,80</div>
<div class="t s" style="left:828.79px;top:114px;font-size:15.5px;transform:scaleX(0.9513);">R$</div>
<div class="t s" style="left:972.02px;top:114px;font-size:15.5px;transform:scaleX(1.0300);">15,54</div>
<div class="t s" style="left:27.66px;top:139px;font-size:15.5px;transform:scaleX(1.0162);">Camiseta Lisa</div>
<div class="t s" style="left:220.86px;top:139px;font-size:15.5px;transform:scaleX(1.2151);">M</div>
<div class="t s" style="left:284.33px;top:139px;font-size:15.5px;transform:scaleX(1.0781);">Vestuário</div>
<div class="t s" style="left:398.79px;top:139px;font-size:15.5px;transform:scaleX(0.9513);">R$</div>
<div class="t s" style="left:501.18px;top:139px;font-size:15.5px;transform:scaleX(1.0300);">29,90</div>
<div class="t s" style="left:595.43px;top:139px;font-size:15.5px;transform:scaleX(1.0300);">10</div>
<div class="t s" style="left:667.79px;top:139px;font-size:15.5px;transform:scaleX(0.9513);">R$</div>
<div class="t s" style="left:761.30px;top:139px;font-size:15.5px;transform:scaleX(1.0300);">299,00</div>
<div class="t s" style="left:828.79px;top:139px;font-size:15.5px;transform:scaleX(0.9513);">R$</div>
<div class="t s" style="left:972.23px;top:139px;font-size:15.5px;transform:scaleX(1.0300);">14,95</div>
<div class="t s" style="left:27.66px;top:163px;font-size:15.5px;transform:scaleX(1.0162);">Camiseta Lisa</div>
<div class="t s" style="left:222.91px;top:163px;font-size:15.5px;transform:scaleX(0.9929);">G</div>
<div class="t s" style="left:284.33px;top:163px;font-size:15.5px;transform:scaleX(1.0781);">Vestuário</div>
<div class="t s" style="left:398.79px;top:163px;font-size:15.5px;transform:scaleX(0.9513);">R$</div>
<div class="t s" style="left:501.18px;top:163px;font-size:15.5px;transform:scaleX(1.0300);">32,90</div>
<div class="t s" style="left:600.11px;top:163px;font-size:15.5px;transform:scaleX(1.0300);">6</div>
<div class="t s" style="left:667.79px;top:163px;font-size:15.5px;transform:scaleX(0.9513);">R$</div>
<div class="t s" style="left:761.30px;top:163px;font-size:15.5px;transform:scaleX(1.0300);">197,40</div>
<div class="t s" style="left:828.79px;top:163px;font-size:15.5px;transform:scaleX(0.9513);">R$</div>
<div class="t s" style="left:981.23px;top:163px;font-size:15.5px;transform:scaleX(1.0300);">9,87</div>
<div class="t s" style="left:27.70px;top:187px;font-size:15.5px;transform:scaleX(1.0458);">Óculos</div>
<div class="t s" style="left:206.80px;top:187px;font-size:15.5px;transform:scaleX(1.0903);">Único</div>
<div class="t s" style="left:284.37px;top:187px;font-size:15.5px;transform:scaleX(1.0276);">Acessórios</div>
<div class="t s" style="left:398.79px;top:187px;font-size:15.5px;transform:scaleX(0.9513);">R$</div>
<div class="t s" style="left:492.30px;top:187px;font-size:15.5px;transform:scaleX(1.0300);">399,90</div>
<div class="t s" style="left:600.21px;top:187px;font-size:15.5px;transform:scaleX(1.0300);">3</div>
<div class="t s" style="left:667.79px;top:187px;font-size:15.5px;transform:scaleX(0.9513);">R$</div>
<div class="t s" style="left:747.99px;top:187px;font-size:15.5px;transform:scaleX(1.0300);">1.199,70</div>
<div class="t s" style="left:828.79px;top:187px;font-size:15.5px;transform:scaleX(0.9513);">R$</div>
<div class="t s" style="left:972.31px;top:187px;font-size:15.5px;transform:scaleX(1.0300);">59,99</div>
<div class="t s" style="left:28.05px;top:211px;font-size:15.5px;transform:scaleX(1.0273);">Jaqueta</div>
<div class="t s" style="left:223.92px;top:211px;font-size:15.5px;transform:scaleX(0.8853);">P</div>
<div class="t s" style="left:284.33px;top:211px;font-size:15.5px;transform:scaleX(1.0781);">Vestuário</div>
<div class="t s" style="left:398.79px;top:211px;font-size:15.5px;transform:scaleX(0.9513);">R$</div>
<div class="t s" style="left:492.30px;top:211px;font-size:15.5px;transform:scaleX(1.0300);">249,90</div>
<div class="t s" style="left:599.95px;top:211px;font-size:15.5px;transform:scaleX(1.0300);">1</div>
<div class="t s" style="left:667.79px;top:211px;font-size:15.5px;transform:scaleX(0.9513);">R$</div>
<div class="t s" style="left:761.30px;top:211px;font-size:15.5px;transform:scaleX(1.0300);">249,90</div>
<div class="t s" style="left:828.79px;top:211px;font-size:15.5px;transform:scaleX(0.9513);">R$</div>
<div class="t s" style="left:972.18px;top:211px;font-size:15.5px;transform:scaleX(1.0300);">12,50</div>
<div class="t s" style="left:28.05px;top:235px;font-size:15.5px;transform:scaleX(1.0273);">Jaqueta</div>
<div class="t s" style="left:220.86px;top:235px;font-size:15.5px;transform:scaleX(1.2151);">M</div>
<div class="t s" style="left:284.33px;top:235px;font-size:15.5px;transform:scaleX(1.0781);">Vestuário</div>
<div class="t s" style="left:398.79px;top:235px;font-size:15.5px;transform:scaleX(0.9513);">R$</div>
<div class="t s" style="left:492.30px;top:235px;font-size:15.5px;transform:scaleX(1.0300);">259,90</div>
<div class="t s" style="left:600.16px;top:235px;font-size:15.5px;transform:scaleX(1.0300);">2</div>
<div class="t s" style="left:667.79px;top:235px;font-size:15.5px;transform:scaleX(0.9513);">R$</div>
<div class="t s" style="left:761.30px;top:235px;font-size:15.5px;transform:scaleX(1.0300);">519,80</div>
<div class="t s" style="left:828.79px;top:235px;font-size:15.5px;transform:scaleX(0.9513);">R$</div>
<div class="t s" style="left:972.31px;top:235px;font-size:15.5px;transform:scaleX(1.0300);">25,99</div>
<div class="t s" style="left:28.05px;top:259px;font-size:15.5px;transform:scaleX(1.0273);">Jaqueta</div>
<div class="t s" style="left:222.91px;top:259px;font-size:15.5px;transform:scaleX(0.9929);">G</div>
<div class="t s" style="left:284.33px;top:259px;font-size:15.5px;transform:scaleX(1.0781);">Vestuário</div>
<div class="t s" style="left:398.79px;top:259px;font-size:15.5px;transform:scaleX(0.9513);">R$</div>
<div class="t s" style="left:492.30px;top:259px;font-size:15.5px;transform:scaleX(1.0300);">299,90</div>
<div class="t s" style="left:599.95px;top:259px;font-size:15.5px;transform:scaleX(1.0300);">1</div>
<div class="t s" style="left:667.79px;top:259px;font-size:15.5px;transform:scaleX(0.9513);">R$</div>
<div class="t s" style="left:761.30px;top:259px;font-size:15.5px;transform:scaleX(1.0300);">299,90</div>
<div class="t s" style="left:828.79px;top:259px;font-size:15.5px;transform:scaleX(0.9513);">R$</div>
<div class="t s" style="left:972.18px;top:259px;font-size:15.5px;transform:scaleX(1.0300);">15,00</div>
<div class="t s" style="left:27.66px;top:283px;font-size:15.5px;transform:scaleX(1.0066);">Calça</div>
<div class="t s" style="left:223.92px;top:283px;font-size:15.5px;transform:scaleX(0.8853);">P</div>
<div class="t s" style="left:284.33px;top:283px;font-size:15.5px;transform:scaleX(1.0781);">Vestuário</div>
<div class="t s" style="left:398.79px;top:283px;font-size:15.5px;transform:scaleX(0.9513);">R$</div>
<div class="t s" style="left:501.18px;top:283px;font-size:15.5px;transform:scaleX(1.0300);">85,90</div>
<div class="t s" style="left:600.16px;top:283px;font-size:15.5px;transform:scaleX(1.0300);">8</div>
<div class="t s" style="left:667.79px;top:283px;font-size:15.5px;transform:scaleX(0.9513);">R$</div>
<div class="t s" style="left:761.30px;top:283px;font-size:15.5px;transform:scaleX(1.0300);">687,20</div>
<div class="t s" style="left:828.79px;top:283px;font-size:15.5px;transform:scaleX(0.9513);">R$</div>
<div class="t s" style="left:972.26px;top:283px;font-size:15.5px;transform:scaleX(1.0300);">34,36</div>
<div class="t s" style="left:27.66px;top:307px;font-size:15.5px;transform:scaleX(1.0066);">Calça</div>
<div class="t s" style="left:220.86px;top:307px;font-size:15.5px;transform:scaleX(1.2151);">M</div>
<div class="t s" style="left:284.33px;top:307px;font-size:15.5px;transform:scaleX(1.0781);">Vestuário</div>
<div class="t s" style="left:398.79px;top:307px;font-size:15.5px;transform:scaleX(0.9513);">R$</div>
<div class="t s" style="left:501.18px;top:307px;font-size:15.5px;transform:scaleX(1.0300);">89,90</div>
<div class="t s" style="left:600.18px;top:307px;font-size:15.5px;transform:scaleX(1.0300);">5</div>
<div class="t s" style="left:667.79px;top:307px;font-size:15.5px;transform:scaleX(0.9513);">R$</div>
<div class="t s" style="left:761.30px;top:307px;font-size:15.5px;transform:scaleX(1.0300);">449,50</div>
<div class="t s" style="left:828.79px;top:307px;font-size:15.5px;transform:scaleX(0.9513);">R$</div>
<div class="t s" style="left:972.24px;top:307px;font-size:15.5px;transform:scaleX(1.0300);">22,48</div>
<div class="t s" style="left:27.66px;top:331px;font-size:15.5px;transform:scaleX(1.0066);">Calça</div>
<div class="t s" style="left:222.91px;top:331px;font-size:15.5px;transform:scaleX(0.9929);">G</div>
<div class="t s" style="left:284.33px;top:331px;font-size:15.5px;transform:scaleX(1.0781);">Vestuário</div>
<div class="t s" style="left:398.79px;top:331px;font-size:15.5px;transform:scaleX(0.9513);">R$</div>
<div class="t s" style="left:501.18px;top:331px;font-size:15.5px;transform:scaleX(1.0300);">92,90</div>
<div class="t s" style="left:600.11px;top:331px;font-size:15.5px;transform:scaleX(1.0300);">6</div>
<div class="t s" style="left:667.79px;top:331px;font-size:15.5px;transform:scaleX(0.9513);">R$</div>
<div class="t s" style="left:761.30px;top:331px;font-size:15.5px;transform:scaleX(1.0300);">557,40</div>
<div class="t s" style="left:828.79px;top:331px;font-size:15.5px;transform:scaleX(0.9513);">R$</div>
<div class="t s" style="left:972.35px;top:331px;font-size:15.5px;transform:scaleX(1.0300);">27,87</div>
<div class="t s" style="left:28.39px;top:355px;font-size:15.5px;transform:scaleX(1.0813);">Vestido</div>
<div class="t s" style="left:206.80px;top:355px;font-size:15.5px;transform:scaleX(1.0903);">Único</div>
<div class="t s" style="left:284.33px;top:355px;font-size:15.5px;transform:scaleX(1.0781);">Vestuário</div>
<div class="t s" style="left:398.79px;top:355px;font-size:15.5px;transform:scaleX(0.9513);">R$</div>
<div class="t s" style="left:492.30px;top:355px;font-size:15.5px;transform:scaleX(1.0300);">149,90</div>
<div class="t s" style="left:600.16px;top:355px;font-size:15.5px;transform:scaleX(1.0300);">2</div>
<div class="t s" style="left:667.79px;top:355px;font-size:15.5px;transform:scaleX(0.9513);">R$</div>
<div class="t s" style="left:761.30px;top:355px;font-size:15.5px;transform:scaleX(1.0300);">299,80</div>
<div class="t s" style="left:828.79px;top:355px;font-size:15.5px;transform:scaleX(0.9513);">R$</div>
<div class="t s" style="left:972.31px;top:355px;font-size:15.5px;transform:scaleX(1.0300);">14,99</div>
<div class="t s" style="left:27.87px;top:379px;font-size:15.5px;transform:scaleX(1.0482);">Bermuda</div>
<div class="t s" style="left:223.92px;top:379px;font-size:15.5px;transform:scaleX(0.8853);">P</div>
<div class="t s" style="left:284.33px;top:379px;font-size:15.5px;transform:scaleX(1.0781);">Vestuário</div>
<div class="t s" style="left:398.79px;top:379px;font-size:15.5px;transform:scaleX(0.9513);">R$</div>
<div class="t s" style="left:501.18px;top:379px;font-size:15.5px;transform:scaleX(1.0300);">65,90</div>
<div class="t s" style="left:595.52px;top:379px;font-size:15.5px;transform:scaleX(1.0300);">12</div>
<div class="t s" style="left:667.79px;top:379px;font-size:15.5px;transform:scaleX(0.9513);">R$</div>
<div class="t s" style="left:761.30px;top:379px;font-size:15.5px;transform:scaleX(1.0300);">790,80</div>
<div class="t s" style="left:828.79px;top:379px;font-size:15.5px;transform:scaleX(0.9513);">R$</div>
<div class="t s" style="left:972.02px;top:379px;font-size:15.5px;transform:scaleX(1.0300);">39,54</div>
<div class="t s" style="left:27.87px;top:403px;font-size:15.5px;transform:scaleX(1.0482);">Bermuda</div>
<div class="t s" style="left:220.86px;top:403px;font-size:15.5px;transform:scaleX(1.2151);">M</div>
<div class="t s" style="left:284.33px;top:403px;font-size:15.5px;transform:scaleX(1.0781);">Vestuário</div>
<div class="t s" style="left:398.79px;top:403px;font-size:15.5px;transform:scaleX(0.9513);">R$</div>
<div class="t s" style="left:501.18px;top:403px;font-size:15.5px;transform:scaleX(1.0300);">69,90</div>
<div class="t s" style="left:595.45px;top:403px;font-size:15.5px;transform:scaleX(1.0300);">15</div>
<div class="t s" style="left:667.79px;top:403px;font-size:15.5px;transform:scaleX(0.9513);">R$</div>
<div class="t s" style="left:747.99px;top:403px;font-size:15.5px;transform:scaleX(1.0300);">1.048,50</div>
<div class="t s" style="left:828.79px;top:403px;font-size:15.5px;transform:scaleX(0.9513);">R$</div>
<div class="t s" style="left:972.26px;top:403px;font-size:15.5px;transform:scaleX(1.0300);">52,43</div>
<div class="t s" style="left:27.87px;top:427px;font-size:15.5px;transform:scaleX(1.0482);">Bermuda</div>
<div class="t s" style="left:222.91px;top:427px;font-size:15.5px;transform:scaleX(0.9929);">G</div>
<div class="t s" style="left:284.33px;top:427px;font-size:15.5px;transform:scaleX(1.0781);">Vestuário</div>
<div class="t s" style="left:398.79px;top:427px;font-size:15.5px;transform:scaleX(0.9513);">R$</div>
<div class="t s" style="left:501.18px;top:427px;font-size:15.5px;transform:scaleX(1.0300);">70,90</div>
<div class="t s" style="left:595.47px;top:427px;font-size:15.5px;transform:scaleX(1.0300);">13</div>
<div class="t s" style="left:667.79px;top:427px;font-size:15.5px;transform:scaleX(0.9513);">R$</div>
<div class="t s" style="left:761.30px;top:427px;font-size:15.5px;transform:scaleX(1.0300);">921,70</div>
<div class="t s" style="left:828.79px;top:427px;font-size:15.5px;transform:scaleX(0.9513);">R$</div>
<div class="t s" style="left:972.31px;top:427px;font-size:15.5px;transform:scaleX(1.0300);">46,09</div>
<div class="t s" style="left:27.65px;top:451px;font-size:15.5px;transform:scaleX(1.0190);">Tênis</div>
<div class="t s" style="left:219.87px;top:451px;font-size:15.5px;transform:scaleX(1.0300);">36</div>
<div class="t s" style="left:283.57px;top:451px;font-size:15.5px;transform:scaleX(1.0500);">Calçado</div>
<div class="t s" style="left:398.79px;top:451px;font-size:15.5px;transform:scaleX(0.9513);">R$</div>
<div class="t s" style="left:492.30px;top:451px;font-size:15.5px;transform:scaleX(1.0300);">199,90</div>
<div class="t s" style="left:600.16px;top:451px;font-size:15.5px;transform:scaleX(1.0300);">2</div>
<div class="t s" style="left:667.79px;top:451px;font-size:15.5px;transform:scaleX(0.9513);">R$</div>
<div class="t s" style="left:761.30px;top:451px;font-size:15.5px;transform:scaleX(1.0300);">399,80</div>
<div class="t s" style="left:828.79px;top:451px;font-size:15.5px;transform:scaleX(0.9513);">R$</div>
<div class="t s" style="left:972.31px;top:451px;font-size:15.5px;transform:scaleX(1.0300);">19,99</div>
<div class="t s" style="left:27.65px;top:475px;font-size:15.5px;transform:scaleX(1.0190);">Tênis</div>
<div class="t s" style="left:219.92px;top:475px;font-size:15.5px;transform:scaleX(1.0300);">37</div>
<div class="t s" style="left:283.57px;top:475px;font-size:15.5px;transform:scaleX(1.0500);">Calçado</div>
<div class="t s" style="left:398.79px;top:475px;font-size:15.5px;transform:scaleX(0.9513);">R$</div>
<div class="t s" style="left:492.30px;top:475px;font-size:15.5px;transform:scaleX(1.0300);">249,90</div>
<div class="t s" style="left:599.95px;top:475px;font-size:15.5px;transform:scaleX(1.0300);">1</div>
<div class="t s" style="left:667.79px;top:475px;font-size:15.5px;transform:scaleX(0.9513);">R$</div>
<div class="t s" style="left:761.30px;top:475px;font-size:15.5px;transform:scaleX(1.0300);">249,90</div>
<div class="t s" style="left:828.79px;top:475px;font-size:15.5px;transform:scaleX(0.9513);">R$</div>
<div class="t s" style="left:972.18px;top:475px;font-size:15.5px;transform:scaleX(1.0300);">12,50</div>
<div class="t s" style="left:27.65px;top:499px;font-size:15.5px;transform:scaleX(1.0190);">Tênis</div>
<div class="t s" style="left:219.86px;top:499px;font-size:15.5px;transform:scaleX(1.0300);">38</div>
<div class="t s" style="left:283.57px;top:499px;font-size:15.5px;transform:scaleX(1.0500);">Calçado</div>
<div class="t s" style="left:398.79px;top:499px;font-size:15.5px;transform:scaleX(0.9513);">R$</div>
<div class="t s" style="left:492.30px;top:499px;font-size:15.5px;transform:scaleX(1.0300);">259,90</div>
<div class="t s" style="left:600.16px;top:499px;font-size:15.5px;transform:scaleX(1.0300);">0</div>
<div class="t s" style="left:667.79px;top:499px;font-size:15.5px;transform:scaleX(0.9513);">R$</div>
<div class="t s" style="left:784.92px;top:499px;font-size:15.5px;">-</div>
<div class="t s" style="left:828.79px;top:499px;font-size:15.5px;transform:scaleX(0.9513);">R$</div>
<div class="t s" style="left:986.92px;top:499px;font-size:15.5px;">-</div>
<div class="t s" style="left:27.88px;top:523px;font-size:15.5px;transform:scaleX(1.0348);">Bolsa</div>
<div class="t s" style="left:206.80px;top:523px;font-size:15.5px;transform:scaleX(1.0903);">Único</div>
<div class="t s" style="left:284.37px;top:523px;font-size:15.5px;transform:scaleX(1.0276);">Acessórios</div>
<div class="t s" style="left:398.79px;top:523px;font-size:15.5px;transform:scaleX(0.9513);">R$</div>
<div class="t s" style="left:492.30px;top:523px;font-size:15.5px;transform:scaleX(1.0300);">259,90</div>
<div class="t s" style="left:599.95px;top:523px;font-size:15.5px;transform:scaleX(1.0300);">1</div>
<div class="t s" style="left:667.79px;top:523px;font-size:15.5px;transform:scaleX(0.9513);">R$</div>
<div class="t s" style="left:761.30px;top:523px;font-size:15.5px;transform:scaleX(1.0300);">259,90</div>
<div class="t s" style="left:828.79px;top:523px;font-size:15.5px;transform:scaleX(0.9513);">R$</div>
<div class="t s" style="left:972.18px;top:523px;font-size:15.5px;transform:scaleX(1.0300);">13,00</div>
<div class="t s" style="left:27.83px;top:547px;font-size:15.5px;transform:scaleX(1.0777);">Boné</div>
<div class="t s" style="left:206.80px;top:547px;font-size:15.5px;transform:scaleX(1.0903);">Único</div>
<div class="t s" style="left:284.37px;top:547px;font-size:15.5px;transform:scaleX(1.0276);">Acessórios</div>
<div class="t s" style="left:398.79px;top:547px;font-size:15.5px;transform:scaleX(0.9513);">R$</div>
<div class="t s" style="left:492.30px;top:547px;font-size:15.5px;transform:scaleX(1.0300);">139,90</div>
<div class="t s" style="left:596.10px;top:547px;font-size:15.5px;transform:scaleX(1.0300);">11</div>
<div class="t s" style="left:667.79px;top:547px;font-size:15.5px;transform:scaleX(0.9513);">R$</div>
<div class="t s" style="left:747.99px;top:547px;font-size:15.5px;transform:scaleX(1.0300);">1.538,90</div>
<div class="t s" style="left:828.79px;top:547px;font-size:15.5px;transform:scaleX(0.9513);">R$</div>
<div class="t s" style="left:972.23px;top:547px;font-size:15.5px;transform:scaleX(1.0300);">76,95</div>
<div class="t s" style="left:27.60px;top:571px;font-size:15.5px;transform:scaleX(1.0911);">Cinto</div>
<div class="t s" style="left:206.80px;top:571px;font-size:15.5px;transform:scaleX(1.0903);">Único</div>
<div class="t s" style="left:284.37px;top:571px;font-size:15.5px;transform:scaleX(1.0276);">Acessórios</div>
<div class="t s" style="left:398.79px;top:571px;font-size:15.5px;transform:scaleX(0.9513);">R$</div>
<div class="t s" style="left:501.18px;top:571px;font-size:15.5px;transform:scaleX(1.0300);">49,90</div>
<div class="t s" style="left:595.72px;top:571px;font-size:15.5px;transform:scaleX(1.0300);">21</div>
<div class="t s" style="left:667.79px;top:571px;font-size:15.5px;transform:scaleX(0.9513);">R$</div>
<div class="t s" style="left:747.99px;top:571px;font-size:15.5px;transform:scaleX(1.0300);">1.047,90</div>
<div class="t s" style="left:828.79px;top:571px;font-size:15.5px;transform:scaleX(0.9513);">R$</div>
<div class="t s" style="left:972.18px;top:571px;font-size:15.5px;transform:scaleX(1.0300);">52,40</div>
<div style="left:25px;top:590px;width:997px;height:33px;background:#000;"></div>
<div style="left:25px;top:592px;width:364px;height:29px;background:#262626;"></div>
<div style="left:390px;top:592px;width:428px;height:29px;background:#dbff00;"></div>
<div style="left:820px;top:592px;width:200px;height:29px;background:#dbff00;"></div>
<div class="t" style="left:329.99px;top:598px;font-size:20px;font-weight:bold;color:#fff;transform:scaleX(0.9759);">Totais</div>
<div class="t" style="left:399.01px;top:601px;font-size:15.5px;font-weight:bold;transform:scaleX(0.9540);">R$</div>
<div class="t" style="left:477.12px;top:601px;font-size:15.5px;font-weight:bold;transform:scaleX(1.0652);">3.083,00</div>
<div class="t" style="left:591.10px;top:601px;font-size:15.5px;font-weight:bold;transform:scaleX(1.0300);">132</div>
<div class="t" style="left:668.01px;top:601px;font-size:15.5px;font-weight:bold;transform:scaleX(0.9540);">R$</div>
<div class="t" style="left:736.85px;top:601px;font-size:15.5px;font-weight:bold;transform:scaleX(1.0800);">11.327,80</div>
<div class="t" style="left:829.01px;top:601px;font-size:15.5px;font-weight:bold;transform:scaleX(0.9540);">R$</div>
<div class="t" style="left:962.50px;top:601px;font-size:15.5px;font-weight:bold;transform:scaleX(1.0508);">566,39</div>
<div style="left:1056px;top:78px;width:102px;height:57px;background:#000;"></div>
<div style="left:1058px;top:80px;width:98px;height:29px;background:#262626;"></div>
<div style="left:1058px;top:110px;width:98px;height:23px;background:#dbff00;"></div>
<div class="t" style="left:1061.68px;top:85px;font-size:20px;font-weight:bold;color:#fff;transform:scaleX(0.9888);">Desconto</div>
<div class="t" style="left:1096.19px;top:114px;font-size:15.5px;font-weight:bold;transform:scaleX(0.9622);">5%</div>
<div style="left:818px;top:108px;width:205px;height:2px;background:#1f7246;"></div>
<div style="left:818px;top:133px;width:205px;height:2px;background:#1f7246;"></div>
<div style="left:818px;top:108px;width:2px;height:27px;background:#1f7246;"></div>
<div style="left:1021px;top:108px;width:2px;height:27px;background:#1f7246;"></div>
<div style="left:1019px;top:132px;width:6px;height:6px;background:#1f7246;box-shadow:0 0 0 1px #fff;"></div>
<div style="left:0px;top:0px;width:1162px;height:48px;background:#ece7e9;"></div>
<div style="left:0;top:0;width:1162px;height:4px;background:linear-gradient(#d9d3d6,#ece7e9)"></div>
<div style="left:2px;top:11px;width:125px;height:28px;background:#fff;border-radius:4px;"></div>
<div style="left:154px;top:11px;width:105px;height:28px;background:#fff;border-radius:4px;"></div>
<div style="left:266px;top:11px;width:1162px;height:28px;background:#fff;border-radius:4px 0 0 4px;"></div>
<div class="t" style="left:7.81px;top:16px;font-size:16px;color:#333;transform:scaleX(0.9861);">G4</div>
<div class="t" style="left:277.95px;top:16px;font-size:16px;font-family:'Liberation Mono',monospace;color:#222;transform:scaleX(1.0468);">=F4*$I$4</div>
<svg style="left:107px;top:21px" width="14" height="10" viewBox="0 0 14 10"><path d="M1.5 2.5L7 8L12.5 2.5" fill="none" stroke="#333" stroke-width="1.4"/></svg>
<svg style="left:137px;top:17px" width="6" height="18" viewBox="0 0 6 18"><rect x="1.6" y="1.3" width="2.8" height="2.8" rx="0.6" fill="#3a3a3a"/><rect x="1.6" y="7" width="2.8" height="2.8" rx="0.6" fill="#3a3a3a"/><rect x="1.6" y="12.7" width="2.8" height="2.8" rx="0.6" fill="#3a3a3a"/></svg>
<svg style="left:160px;top:17px" width="18" height="17" viewBox="0 0 18 17"><path d="M2 1.5L16 15.5M16 1.5L2 15.5" fill="none" stroke="#b0b0b0" stroke-width="1.2"/></svg>
<svg style="left:187px;top:17px" width="22" height="17" viewBox="0 0 22 17"><path d="M2 8.5L8 14.5L20 1.5" fill="none" stroke="#b0b0b0" stroke-width="1.2"/></svg>
<div class="t" style="left:220.23px;top:14px;font-size:21px;font-family:'Liberation Serif',serif;font-style:italic;color:#222;transform:scaleX(1.1837);-webkit-text-stroke:0.35px #222;">fx</div>
<svg style="left:243.5px;top:21px" width="14" height="10" viewBox="0 0 14 10"><path d="M1.5 2.5L7 8L12.5 2.5" fill="none" stroke="#9a9a9a" stroke-width="1.2"/></svg>
<div style="left:0;top:626px;width:1162px;height:5px;background:linear-gradient(rgba(255,255,255,0),#fff)"></div>
</div>
</body></html>
